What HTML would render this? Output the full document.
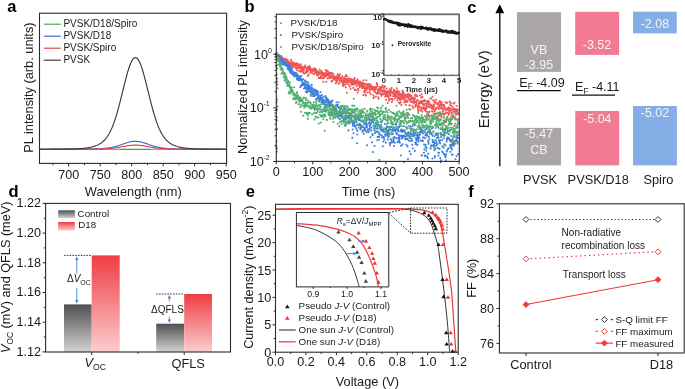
<!DOCTYPE html>
<html><head><meta charset="utf-8"><style>
html,body{margin:0;padding:0;background:#fff;}
svg{display:block;font-family:"Liberation Sans", sans-serif;will-change:transform;}
</style></head><body>
<svg width="685" height="389" viewBox="0 0 685 389">
<rect width="685" height="389" fill="#fff"/>
<text x="7.20" y="11.90" font-size="16.5" text-anchor="start" fill="#000" font-weight="700" >a</text>
<text x="244.40" y="11.70" font-size="16.5" text-anchor="start" fill="#000" font-weight="700" >b</text>
<text x="467.20" y="12.60" font-size="16.5" text-anchor="start" fill="#000" font-weight="700" >c</text>
<text x="8.40" y="196.60" font-size="16.5" text-anchor="start" fill="#000" font-weight="700" >d</text>
<text x="245.80" y="196.90" font-size="16.5" text-anchor="start" fill="#000" font-weight="700" >e</text>
<text x="468.30" y="197.20" font-size="16.5" text-anchor="start" fill="#000" font-weight="700" >f</text>
<path d="M40.00 149.20 L40.75 149.20 L41.50 149.20 L42.25 149.20 L43.00 149.20 L43.75 149.20 L44.50 149.20 L45.25 149.20 L46.00 149.20 L46.75 149.20 L47.50 149.20 L48.25 149.20 L49.00 149.20 L49.75 149.20 L50.50 149.20 L51.25 149.20 L52.00 149.20 L52.75 149.20 L53.50 149.20 L54.25 149.20 L55.00 149.20 L55.75 149.20 L56.50 149.20 L57.25 149.20 L58.00 149.20 L58.75 149.20 L59.50 149.20 L60.25 149.20 L61.00 149.20 L61.75 149.20 L62.50 149.20 L63.25 149.20 L64.00 149.20 L64.75 149.20 L65.50 149.20 L66.25 149.20 L67.00 149.20 L67.75 149.20 L68.50 149.20 L69.25 149.20 L70.00 149.20 L70.75 149.20 L71.50 149.20 L72.25 149.20 L73.00 149.20 L73.75 149.20 L74.50 149.20 L75.25 149.20 L76.00 149.20 L76.75 149.20 L77.50 149.20 L78.25 149.20 L79.00 149.20 L79.75 149.20 L80.50 149.20 L81.25 149.20 L82.00 149.20 L82.75 149.20 L83.50 149.20 L84.25 149.20 L85.00 149.20 L85.75 149.20 L86.50 149.20 L87.25 149.20 L88.00 149.20 L88.75 149.20 L89.50 149.20 L90.25 149.20 L91.00 149.20 L91.75 149.20 L92.50 149.21 L93.25 149.21 L94.00 149.21 L94.75 149.21 L95.50 149.21 L96.25 149.21 L97.00 149.21 L97.75 149.21 L98.50 149.21 L99.25 149.21 L100.00 149.21 L100.75 149.21 L101.50 149.21 L102.25 149.22 L103.00 149.22 L103.75 149.22 L104.50 149.22 L105.25 149.22 L106.00 149.22 L106.75 149.23 L107.50 149.23 L108.25 149.23 L109.00 149.23 L109.75 149.24 L110.50 149.24 L111.25 149.24 L112.00 149.25 L112.75 149.25 L113.50 149.26 L114.25 149.26 L115.00 149.26 L115.75 149.27 L116.50 149.27 L117.25 149.28 L118.00 149.29 L118.75 149.29 L119.50 149.30 L120.25 149.30 L121.00 149.31 L121.75 149.32 L122.50 149.32 L123.25 149.33 L124.00 149.34 L124.75 149.34 L125.50 149.35 L126.25 149.36 L127.00 149.36 L127.75 149.37 L128.50 149.37 L129.25 149.38 L130.00 149.38 L130.75 149.39 L131.50 149.39 L132.25 149.39 L133.00 149.40 L133.75 149.40 L134.50 149.40 L135.25 149.40 L136.00 149.40 L136.75 149.40 L137.50 149.40 L138.25 149.40 L139.00 149.39 L139.75 149.39 L140.50 149.39 L141.25 149.38 L142.00 149.38 L142.75 149.37 L143.50 149.37 L144.25 149.36 L145.00 149.35 L145.75 149.35 L146.50 149.34 L147.25 149.33 L148.00 149.33 L148.75 149.32 L149.50 149.31 L150.25 149.31 L151.00 149.30 L151.75 149.29 L152.50 149.29 L153.25 149.28 L154.00 149.28 L154.75 149.27 L155.50 149.27 L156.25 149.26 L157.00 149.26 L157.75 149.25 L158.50 149.25 L159.25 149.24 L160.00 149.24 L160.75 149.24 L161.50 149.23 L162.25 149.23 L163.00 149.23 L163.75 149.23 L164.50 149.22 L165.25 149.22 L166.00 149.22 L166.75 149.22 L167.50 149.22 L168.25 149.22 L169.00 149.21 L169.75 149.21 L170.50 149.21 L171.25 149.21 L172.00 149.21 L172.75 149.21 L173.50 149.21 L174.25 149.21 L175.00 149.21 L175.75 149.21 L176.50 149.21 L177.25 149.21 L178.00 149.21 L178.75 149.21 L179.50 149.20 L180.25 149.20 L181.00 149.20 L181.75 149.20 L182.50 149.20 L183.25 149.20 L184.00 149.20 L184.75 149.20 L185.50 149.20 L186.25 149.20 L187.00 149.20 L187.75 149.20 L188.50 149.20 L189.25 149.20 L190.00 149.20 L190.75 149.20 L191.50 149.20 L192.25 149.20 L193.00 149.20 L193.75 149.20 L194.50 149.20 L195.25 149.20 L196.00 149.20 L196.75 149.20 L197.50 149.20 L198.25 149.20 L199.00 149.20 L199.75 149.20 L200.50 149.20 L201.25 149.20 L202.00 149.20 L202.75 149.20 L203.50 149.20 L204.25 149.20 L205.00 149.20 L205.75 149.20 L206.50 149.20 L207.25 149.20 L208.00 149.20 L208.75 149.20 L209.50 149.20 L210.25 149.20 L211.00 149.20 L211.75 149.20 L212.50 149.20 L213.25 149.20 L214.00 149.20 L214.75 149.20 L215.50 149.20 L216.25 149.20 L217.00 149.20 L217.75 149.20 L218.50 149.20 L219.25 149.20 L220.00 149.20 L220.75 149.20 L221.50 149.20 L222.25 149.20 L223.00 149.20 L223.75 149.20 L224.50 149.20 L225.25 149.20 L226.00 149.20" fill="none" stroke="#3aa65c" stroke-width="1.15" stroke-linejoin="round" />
<path d="M40.00 149.20 L40.75 149.20 L41.50 149.20 L42.25 149.20 L43.00 149.20 L43.75 149.20 L44.50 149.20 L45.25 149.20 L46.00 149.20 L46.75 149.20 L47.50 149.20 L48.25 149.20 L49.00 149.20 L49.75 149.20 L50.50 149.20 L51.25 149.20 L52.00 149.20 L52.75 149.20 L53.50 149.20 L54.25 149.20 L55.00 149.20 L55.75 149.20 L56.50 149.20 L57.25 149.20 L58.00 149.20 L58.75 149.20 L59.50 149.20 L60.25 149.20 L61.00 149.20 L61.75 149.20 L62.50 149.20 L63.25 149.20 L64.00 149.20 L64.75 149.19 L65.50 149.19 L66.25 149.19 L67.00 149.19 L67.75 149.19 L68.50 149.19 L69.25 149.19 L70.00 149.19 L70.75 149.19 L71.50 149.18 L72.25 149.18 L73.00 149.18 L73.75 149.18 L74.50 149.18 L75.25 149.17 L76.00 149.17 L76.75 149.17 L77.50 149.16 L78.25 149.16 L79.00 149.16 L79.75 149.15 L80.50 149.15 L81.25 149.14 L82.00 149.14 L82.75 149.13 L83.50 149.12 L84.25 149.12 L85.00 149.11 L85.75 149.10 L86.50 149.09 L87.25 149.08 L88.00 149.07 L88.75 149.06 L89.50 149.05 L90.25 149.04 L91.00 149.02 L91.75 149.01 L92.50 148.99 L93.25 148.97 L94.00 148.95 L94.75 148.93 L95.50 148.91 L96.25 148.89 L97.00 148.86 L97.75 148.83 L98.50 148.80 L99.25 148.76 L100.00 148.72 L100.75 148.68 L101.50 148.64 L102.25 148.59 L103.00 148.53 L103.75 148.47 L104.50 148.41 L105.25 148.34 L106.00 148.26 L106.75 148.18 L107.50 148.08 L108.25 147.98 L109.00 147.88 L109.75 147.76 L110.50 147.63 L111.25 147.49 L112.00 147.35 L112.75 147.19 L113.50 147.02 L114.25 146.84 L115.00 146.65 L115.75 146.45 L116.50 146.24 L117.25 146.02 L118.00 145.79 L118.75 145.56 L119.50 145.31 L120.25 145.06 L121.00 144.80 L121.75 144.54 L122.50 144.28 L123.25 144.01 L124.00 143.75 L124.75 143.49 L125.50 143.24 L126.25 142.99 L127.00 142.76 L127.75 142.53 L128.50 142.32 L129.25 142.12 L130.00 141.94 L130.75 141.78 L131.50 141.64 L132.25 141.52 L133.00 141.43 L133.75 141.36 L134.50 141.32 L135.25 141.30 L136.00 141.31 L136.75 141.34 L137.50 141.40 L138.25 141.48 L139.00 141.59 L139.75 141.72 L140.50 141.87 L141.25 142.05 L142.00 142.24 L142.75 142.44 L143.50 142.66 L144.25 142.90 L145.00 143.14 L145.75 143.39 L146.50 143.65 L147.25 143.91 L148.00 144.17 L148.75 144.44 L149.50 144.70 L150.25 144.96 L151.00 145.21 L151.75 145.46 L152.50 145.70 L153.25 145.93 L154.00 146.16 L154.75 146.37 L155.50 146.57 L156.25 146.77 L157.00 146.95 L157.75 147.12 L158.50 147.28 L159.25 147.44 L160.00 147.58 L160.75 147.71 L161.50 147.83 L162.25 147.94 L163.00 148.04 L163.75 148.14 L164.50 148.23 L165.25 148.31 L166.00 148.38 L166.75 148.45 L167.50 148.51 L168.25 148.57 L169.00 148.62 L169.75 148.67 L170.50 148.71 L171.25 148.75 L172.00 148.78 L172.75 148.82 L173.50 148.85 L174.25 148.87 L175.00 148.90 L175.75 148.92 L176.50 148.95 L177.25 148.97 L178.00 148.98 L178.75 149.00 L179.50 149.02 L180.25 149.03 L181.00 149.04 L181.75 149.06 L182.50 149.07 L183.25 149.08 L184.00 149.09 L184.75 149.10 L185.50 149.11 L186.25 149.11 L187.00 149.12 L187.75 149.13 L188.50 149.13 L189.25 149.14 L190.00 149.15 L190.75 149.15 L191.50 149.16 L192.25 149.16 L193.00 149.16 L193.75 149.17 L194.50 149.17 L195.25 149.17 L196.00 149.18 L196.75 149.18 L197.50 149.18 L198.25 149.18 L199.00 149.18 L199.75 149.19 L200.50 149.19 L201.25 149.19 L202.00 149.19 L202.75 149.19 L203.50 149.19 L204.25 149.19 L205.00 149.19 L205.75 149.19 L206.50 149.19 L207.25 149.20 L208.00 149.20 L208.75 149.20 L209.50 149.20 L210.25 149.20 L211.00 149.20 L211.75 149.20 L212.50 149.20 L213.25 149.20 L214.00 149.20 L214.75 149.20 L215.50 149.20 L216.25 149.20 L217.00 149.20 L217.75 149.20 L218.50 149.20 L219.25 149.20 L220.00 149.20 L220.75 149.20 L221.50 149.20 L222.25 149.20 L223.00 149.20 L223.75 149.20 L224.50 149.20 L225.25 149.20 L226.00 149.20" fill="none" stroke="#2f6fe0" stroke-width="1.15" stroke-linejoin="round" />
<path d="M40.00 149.20 L40.75 149.20 L41.50 149.20 L42.25 149.20 L43.00 149.20 L43.75 149.20 L44.50 149.20 L45.25 149.20 L46.00 149.20 L46.75 149.20 L47.50 149.20 L48.25 149.20 L49.00 149.20 L49.75 149.20 L50.50 149.20 L51.25 149.20 L52.00 149.20 L52.75 149.20 L53.50 149.20 L54.25 149.20 L55.00 149.20 L55.75 149.20 L56.50 149.20 L57.25 149.20 L58.00 149.20 L58.75 149.20 L59.50 149.20 L60.25 149.20 L61.00 149.20 L61.75 149.20 L62.50 149.20 L63.25 149.20 L64.00 149.20 L64.75 149.20 L65.50 149.20 L66.25 149.20 L67.00 149.20 L67.75 149.20 L68.50 149.19 L69.25 149.19 L70.00 149.19 L70.75 149.19 L71.50 149.19 L72.25 149.19 L73.00 149.19 L73.75 149.19 L74.50 149.19 L75.25 149.19 L76.00 149.18 L76.75 149.18 L77.50 149.18 L78.25 149.18 L79.00 149.18 L79.75 149.18 L80.50 149.17 L81.25 149.17 L82.00 149.17 L82.75 149.16 L83.50 149.16 L84.25 149.16 L85.00 149.15 L85.75 149.15 L86.50 149.14 L87.25 149.14 L88.00 149.13 L88.75 149.13 L89.50 149.12 L90.25 149.12 L91.00 149.11 L91.75 149.10 L92.50 149.09 L93.25 149.08 L94.00 149.07 L94.75 149.06 L95.50 149.05 L96.25 149.04 L97.00 149.02 L97.75 149.01 L98.50 148.99 L99.25 148.97 L100.00 148.95 L100.75 148.93 L101.50 148.91 L102.25 148.88 L103.00 148.85 L103.75 148.82 L104.50 148.79 L105.25 148.75 L106.00 148.71 L106.75 148.67 L107.50 148.62 L108.25 148.57 L109.00 148.51 L109.75 148.45 L110.50 148.39 L111.25 148.31 L112.00 148.24 L112.75 148.16 L113.50 148.07 L114.25 147.98 L115.00 147.88 L115.75 147.77 L116.50 147.67 L117.25 147.55 L118.00 147.43 L118.75 147.31 L119.50 147.18 L120.25 147.05 L121.00 146.92 L121.75 146.78 L122.50 146.65 L123.25 146.51 L124.00 146.37 L124.75 146.24 L125.50 146.11 L126.25 145.98 L127.00 145.86 L127.75 145.74 L128.50 145.63 L129.25 145.53 L130.00 145.43 L130.75 145.35 L131.50 145.28 L132.25 145.22 L133.00 145.17 L133.75 145.13 L134.50 145.11 L135.25 145.10 L136.00 145.10 L136.75 145.12 L137.50 145.15 L138.25 145.20 L139.00 145.25 L139.75 145.32 L140.50 145.40 L141.25 145.49 L142.00 145.59 L142.75 145.69 L143.50 145.81 L144.25 145.93 L145.00 146.05 L145.75 146.19 L146.50 146.32 L147.25 146.45 L148.00 146.59 L148.75 146.73 L149.50 146.86 L150.25 147.00 L151.00 147.13 L151.75 147.26 L152.50 147.38 L153.25 147.50 L154.00 147.62 L154.75 147.73 L155.50 147.84 L156.25 147.94 L157.00 148.03 L157.75 148.12 L158.50 148.21 L159.25 148.28 L160.00 148.36 L160.75 148.43 L161.50 148.49 L162.25 148.55 L163.00 148.60 L163.75 148.65 L164.50 148.70 L165.25 148.74 L166.00 148.78 L166.75 148.81 L167.50 148.84 L168.25 148.87 L169.00 148.90 L169.75 148.92 L170.50 148.94 L171.25 148.97 L172.00 148.98 L172.75 149.00 L173.50 149.02 L174.25 149.03 L175.00 149.04 L175.75 149.06 L176.50 149.07 L177.25 149.08 L178.00 149.09 L178.75 149.10 L179.50 149.10 L180.25 149.11 L181.00 149.12 L181.75 149.13 L182.50 149.13 L183.25 149.14 L184.00 149.14 L184.75 149.15 L185.50 149.15 L186.25 149.16 L187.00 149.16 L187.75 149.16 L188.50 149.17 L189.25 149.17 L190.00 149.17 L190.75 149.17 L191.50 149.18 L192.25 149.18 L193.00 149.18 L193.75 149.18 L194.50 149.18 L195.25 149.19 L196.00 149.19 L196.75 149.19 L197.50 149.19 L198.25 149.19 L199.00 149.19 L199.75 149.19 L200.50 149.19 L201.25 149.19 L202.00 149.19 L202.75 149.20 L203.50 149.20 L204.25 149.20 L205.00 149.20 L205.75 149.20 L206.50 149.20 L207.25 149.20 L208.00 149.20 L208.75 149.20 L209.50 149.20 L210.25 149.20 L211.00 149.20 L211.75 149.20 L212.50 149.20 L213.25 149.20 L214.00 149.20 L214.75 149.20 L215.50 149.20 L216.25 149.20 L217.00 149.20 L217.75 149.20 L218.50 149.20 L219.25 149.20 L220.00 149.20 L220.75 149.20 L221.50 149.20 L222.25 149.20 L223.00 149.20 L223.75 149.20 L224.50 149.20 L225.25 149.20 L226.00 149.20" fill="none" stroke="#e8413f" stroke-width="1.15" stroke-linejoin="round" />
<path d="M40.00 149.20 L40.75 149.20 L41.50 149.20 L42.25 149.20 L43.00 149.20 L43.75 149.20 L44.50 149.20 L45.25 149.20 L46.00 149.20 L46.75 149.20 L47.50 149.20 L48.25 149.20 L49.00 149.20 L49.75 149.20 L50.50 149.19 L51.25 149.19 L52.00 149.19 L52.75 149.19 L53.50 149.19 L54.25 149.19 L55.00 149.19 L55.75 149.19 L56.50 149.18 L57.25 149.18 L58.00 149.18 L58.75 149.18 L59.50 149.17 L60.25 149.17 L61.00 149.17 L61.75 149.16 L62.50 149.16 L63.25 149.15 L64.00 149.14 L64.75 149.14 L65.50 149.13 L66.25 149.12 L67.00 149.11 L67.75 149.10 L68.50 149.09 L69.25 149.07 L70.00 149.06 L70.75 149.04 L71.50 149.02 L72.25 149.00 L73.00 148.98 L73.75 148.95 L74.50 148.93 L75.25 148.90 L76.00 148.86 L76.75 148.83 L77.50 148.79 L78.25 148.75 L79.00 148.70 L79.75 148.65 L80.50 148.60 L81.25 148.54 L82.00 148.47 L82.75 148.40 L83.50 148.33 L84.25 148.24 L85.00 148.16 L85.75 148.06 L86.50 147.96 L87.25 147.85 L88.00 147.73 L88.75 147.60 L89.50 147.46 L90.25 147.30 L91.00 147.14 L91.75 146.96 L92.50 146.77 L93.25 146.57 L94.00 146.34 L94.75 146.10 L95.50 145.83 L96.25 145.55 L97.00 145.24 L97.75 144.90 L98.50 144.53 L99.25 144.12 L100.00 143.68 L100.75 143.20 L101.50 142.67 L102.25 142.10 L103.00 141.46 L103.75 140.77 L104.50 140.02 L105.25 139.20 L106.00 138.30 L106.75 137.31 L107.50 136.24 L108.25 135.08 L109.00 133.82 L109.75 132.46 L110.50 130.98 L111.25 129.39 L112.00 127.68 L112.75 125.86 L113.50 123.91 L114.25 121.83 L115.00 119.63 L115.75 117.31 L116.50 114.87 L117.25 112.32 L118.00 109.66 L118.75 106.90 L119.50 104.05 L120.25 101.13 L121.00 98.15 L121.75 95.12 L122.50 92.07 L123.25 89.01 L124.00 85.96 L124.75 82.96 L125.50 80.01 L126.25 77.15 L127.00 74.39 L127.75 71.77 L128.50 69.31 L129.25 67.02 L130.00 64.94 L130.75 63.08 L131.50 61.47 L132.25 60.11 L133.00 59.03 L133.75 58.22 L134.50 57.72 L135.25 57.51 L136.00 57.60 L136.75 57.99 L137.50 58.67 L138.25 59.64 L139.00 60.89 L139.75 62.41 L140.50 64.17 L141.25 66.17 L142.00 68.37 L142.75 70.76 L143.50 73.33 L144.25 76.03 L145.00 78.85 L145.75 81.77 L146.50 84.76 L147.25 87.79 L148.00 90.84 L148.75 93.90 L149.50 96.94 L150.25 99.94 L151.00 102.89 L151.75 105.77 L152.50 108.57 L153.25 111.27 L154.00 113.86 L154.75 116.35 L155.50 118.72 L156.25 120.97 L157.00 123.09 L157.75 125.09 L158.50 126.97 L159.25 128.72 L160.00 130.36 L160.75 131.88 L161.50 133.29 L162.25 134.59 L163.00 135.79 L163.75 136.90 L164.50 137.91 L165.25 138.84 L166.00 139.70 L166.75 140.48 L167.50 141.20 L168.25 141.85 L169.00 142.45 L169.75 142.99 L170.50 143.49 L171.25 143.95 L172.00 144.37 L172.75 144.75 L173.50 145.10 L174.25 145.43 L175.00 145.72 L175.75 146.00 L176.50 146.25 L177.25 146.48 L178.00 146.69 L178.75 146.89 L179.50 147.07 L180.25 147.24 L181.00 147.40 L181.75 147.54 L182.50 147.67 L183.25 147.80 L184.00 147.91 L184.75 148.02 L185.50 148.12 L186.25 148.21 L187.00 148.29 L187.75 148.37 L188.50 148.44 L189.25 148.51 L190.00 148.57 L190.75 148.63 L191.50 148.68 L192.25 148.73 L193.00 148.77 L193.75 148.81 L194.50 148.85 L195.25 148.88 L196.00 148.91 L196.75 148.94 L197.50 148.97 L198.25 148.99 L199.00 149.01 L199.75 149.03 L200.50 149.05 L201.25 149.07 L202.00 149.08 L202.75 149.09 L203.50 149.10 L204.25 149.12 L205.00 149.12 L205.75 149.13 L206.50 149.14 L207.25 149.15 L208.00 149.15 L208.75 149.16 L209.50 149.16 L210.25 149.17 L211.00 149.17 L211.75 149.18 L212.50 149.18 L213.25 149.18 L214.00 149.18 L214.75 149.19 L215.50 149.19 L216.25 149.19 L217.00 149.19 L217.75 149.19 L218.50 149.19 L219.25 149.19 L220.00 149.19 L220.75 149.20 L221.50 149.20 L222.25 149.20 L223.00 149.20 L223.75 149.20 L224.50 149.20 L225.25 149.20 L226.00 149.20" fill="none" stroke="#3a3a3a" stroke-width="1.15" stroke-linejoin="round" />
<rect x="39.50" y="13.20" width="187.10" height="150.20" fill="none" stroke="#2b2b2b" stroke-width="1.1" />
<line x1="68.70" y1="163.40" x2="68.70" y2="166.40" stroke="#2b2b2b" stroke-width="1" />
<text x="68.70" y="178.70" font-size="12.6" text-anchor="middle" fill="#1a1a1a" font-weight="400" >700</text>
<line x1="100.20" y1="163.40" x2="100.20" y2="166.40" stroke="#2b2b2b" stroke-width="1" />
<text x="100.20" y="178.70" font-size="12.6" text-anchor="middle" fill="#1a1a1a" font-weight="400" >750</text>
<line x1="131.70" y1="163.40" x2="131.70" y2="166.40" stroke="#2b2b2b" stroke-width="1" />
<text x="131.70" y="178.70" font-size="12.6" text-anchor="middle" fill="#1a1a1a" font-weight="400" >800</text>
<line x1="163.20" y1="163.40" x2="163.20" y2="166.40" stroke="#2b2b2b" stroke-width="1" />
<text x="163.20" y="178.70" font-size="12.6" text-anchor="middle" fill="#1a1a1a" font-weight="400" >850</text>
<line x1="194.70" y1="163.40" x2="194.70" y2="166.40" stroke="#2b2b2b" stroke-width="1" />
<text x="194.70" y="178.70" font-size="12.6" text-anchor="middle" fill="#1a1a1a" font-weight="400" >900</text>
<line x1="226.20" y1="163.40" x2="226.20" y2="166.40" stroke="#2b2b2b" stroke-width="1" />
<text x="226.20" y="178.70" font-size="12.6" text-anchor="middle" fill="#1a1a1a" font-weight="400" >950</text>
<line x1="52.95" y1="163.40" x2="52.95" y2="165.20" stroke="#2b2b2b" stroke-width="1" />
<line x1="84.45" y1="163.40" x2="84.45" y2="165.20" stroke="#2b2b2b" stroke-width="1" />
<line x1="115.95" y1="163.40" x2="115.95" y2="165.20" stroke="#2b2b2b" stroke-width="1" />
<line x1="147.45" y1="163.40" x2="147.45" y2="165.20" stroke="#2b2b2b" stroke-width="1" />
<line x1="178.95" y1="163.40" x2="178.95" y2="165.20" stroke="#2b2b2b" stroke-width="1" />
<line x1="210.45" y1="163.40" x2="210.45" y2="165.20" stroke="#2b2b2b" stroke-width="1" />
<text x="133.30" y="195.60" font-size="12.8" text-anchor="middle" fill="#1a1a1a" font-weight="400" >Wavelength (nm)</text>
<text x="0.00" y="0.00" font-size="12.8" text-anchor="middle" fill="#1a1a1a" font-weight="400" transform="translate(33.3 87.6) rotate(-90)">PL intensity (arb. units)</text>
<line x1="43.80" y1="24.20" x2="60.80" y2="24.20" stroke="#3aa65c" stroke-width="1.15" />
<text x="63.40" y="27.20" font-size="10" text-anchor="start" fill="#1a1a1a" font-weight="400" >PVSK/D18/Spiro</text>
<line x1="43.80" y1="36.20" x2="60.80" y2="36.20" stroke="#2f6fe0" stroke-width="1.15" />
<text x="63.40" y="39.20" font-size="10" text-anchor="start" fill="#1a1a1a" font-weight="400" >PVSK/D18</text>
<line x1="43.80" y1="48.20" x2="60.80" y2="48.20" stroke="#e8413f" stroke-width="1.15" />
<text x="63.40" y="51.20" font-size="10" text-anchor="start" fill="#1a1a1a" font-weight="400" >PVSK/Spiro</text>
<line x1="43.80" y1="60.20" x2="60.80" y2="60.20" stroke="#3a3a3a" stroke-width="1.15" />
<text x="63.40" y="63.20" font-size="10" text-anchor="start" fill="#1a1a1a" font-weight="400" >PVSK</text>
<path d="M276.3 54.6h0M276.2 53.6h0M276.4 56.0h0M276.8 55.1h0M276.8 53.5h0M277.0 54.8h0M277.2 58.0h0M277.4 54.2h0M277.8 58.4h0M277.9 58.7h0M278.3 55.6h0M278.2 56.3h0M278.4 55.9h0M278.9 55.9h0M279.0 55.8h0M279.0 55.1h0M279.1 57.6h0M279.3 57.3h0M279.6 58.1h0M279.9 59.1h0M280.2 59.0h0M280.3 57.4h0M280.5 57.9h0M280.8 56.1h0M281.1 58.4h0M280.8 59.7h0M281.0 61.0h0M281.4 57.3h0M281.7 56.6h0M281.8 58.3h0M282.1 58.1h0M282.2 60.2h0M282.5 61.0h0M282.8 60.3h0M282.5 62.1h0M283.0 59.3h0M283.3 63.2h0M283.2 64.6h0M283.3 62.0h0M283.7 58.6h0M283.7 59.9h0M284.2 59.7h0M284.2 59.7h0M284.7 59.8h0M284.7 59.2h0M285.1 60.0h0M284.9 59.6h0M285.2 64.4h0M285.7 63.6h0M285.5 58.7h0M285.7 60.9h0M286.0 60.5h0M286.0 62.8h0M286.4 62.5h0M286.8 63.4h0M286.9 60.4h0M287.1 64.6h0M287.0 62.4h0M287.6 59.9h0M287.7 64.2h0M287.6 63.9h0M288.0 61.5h0M288.0 62.0h0M288.2 62.5h0M288.3 63.2h0M288.5 62.4h0M288.7 61.7h0M289.3 62.1h0M289.2 64.0h0M289.4 64.0h0M289.9 64.0h0M290.1 62.8h0M289.9 65.7h0M290.1 63.2h0M290.6 64.5h0M290.5 62.7h0M290.9 59.9h0M290.9 63.3h0M291.2 64.5h0M291.7 64.3h0M291.5 62.5h0M291.7 66.6h0M292.0 62.9h0M292.3 61.9h0M292.5 65.2h0M292.8 63.5h0M292.9 62.8h0M293.1 67.6h0M293.1 64.5h0M293.1 62.8h0M293.4 63.6h0M293.8 64.8h0M294.1 63.3h0M294.4 65.8h0M294.2 63.7h0M294.4 65.9h0M294.8 65.1h0M295.1 64.4h0M295.2 64.5h0M295.4 67.6h0M295.7 63.5h0M295.8 64.5h0M295.7 65.9h0M296.2 68.2h0M296.5 67.8h0M296.4 63.3h0M296.7 70.3h0M296.6 63.7h0M297.2 65.6h0M297.3 65.6h0M297.6 64.4h0M297.7 63.8h0M297.6 68.1h0M297.7 64.8h0M298.2 64.1h0M298.6 67.3h0M298.7 70.8h0M298.6 65.4h0M298.8 67.0h0M299.2 65.5h0M299.1 67.3h0M299.7 65.3h0M299.7 68.6h0M300.1 65.7h0M300.1 71.6h0M300.3 65.5h0M300.4 67.9h0M300.5 67.6h0M300.7 64.4h0M301.0 67.6h0M301.2 68.2h0M301.4 70.5h0M301.4 71.4h0M301.8 69.2h0M302.1 68.0h0M302.2 66.6h0M302.6 71.5h0M302.6 69.5h0M302.8 70.2h0M303.1 69.9h0M303.2 70.9h0M303.6 67.8h0M303.8 69.9h0M303.6 72.9h0M304.1 73.6h0M303.9 70.5h0M304.1 67.3h0M304.4 67.4h0M304.9 66.4h0M305.1 67.7h0M305.2 67.3h0M305.1 66.6h0M305.3 65.5h0M305.9 73.1h0M306.1 71.2h0M306.2 68.0h0M306.3 68.3h0M306.4 67.7h0M306.7 68.9h0M306.6 67.9h0M306.8 71.8h0M307.1 70.4h0M307.2 71.6h0M307.8 71.6h0M307.6 68.6h0M307.9 76.0h0M308.1 66.7h0M308.2 69.2h0M308.7 74.5h0M308.6 68.1h0M309.0 67.6h0M309.2 66.8h0M309.4 69.7h0M309.5 70.0h0M309.8 66.4h0M310.1 68.4h0M309.9 67.2h0M310.5 68.6h0M310.5 72.6h0M310.9 70.2h0M310.9 70.9h0M310.9 69.8h0M311.0 70.0h0M311.3 70.2h0M311.8 71.7h0M311.7 69.5h0M312.0 72.5h0M312.0 71.2h0M312.5 71.3h0M312.6 70.9h0M313.0 70.5h0M312.8 69.3h0M313.2 70.6h0M313.5 73.7h0M313.7 73.7h0M314.0 70.1h0M314.1 74.1h0M314.2 68.6h0M314.1 73.5h0M314.3 70.8h0M314.6 68.9h0M314.7 70.5h0M315.3 68.7h0M315.4 70.1h0M315.4 72.5h0M315.7 70.7h0M315.8 71.0h0M316.3 70.5h0M316.1 69.8h0M316.7 72.9h0M316.4 73.3h0M316.8 70.7h0M316.9 75.3h0M317.2 72.3h0M317.2 71.1h0M317.6 72.7h0M317.7 72.4h0M317.9 72.8h0M318.3 75.4h0M318.5 74.5h0M318.5 74.1h0M318.7 78.1h0M319.1 72.0h0M319.2 73.4h0M319.5 69.6h0M319.6 72.2h0M319.6 73.8h0M319.9 77.9h0M320.3 78.2h0M320.5 73.7h0M320.6 78.1h0M320.8 76.2h0M320.7 73.7h0M321.0 73.3h0M321.3 70.7h0M321.5 71.4h0M321.7 76.5h0M321.6 76.6h0M322.0 73.0h0M322.3 78.1h0M322.5 74.7h0M322.5 75.0h0M322.9 72.8h0M322.9 73.6h0M323.2 74.8h0M323.3 81.7h0M323.7 78.3h0M323.8 74.2h0M323.8 75.2h0M324.0 75.4h0M324.4 74.9h0M324.3 76.9h0M324.8 73.3h0M325.0 74.3h0M325.1 75.9h0M325.3 76.8h0M325.7 76.3h0M325.6 74.9h0M325.7 70.4h0M326.1 76.0h0M326.3 72.9h0M326.4 81.7h0M326.5 74.1h0M326.9 70.6h0M327.3 73.8h0M327.1 73.5h0M327.6 74.5h0M327.7 78.4h0M327.8 75.2h0M327.8 71.3h0M328.2 73.3h0M328.3 75.9h0M328.5 74.7h0M329.0 74.4h0M329.1 72.5h0M329.0 76.1h0M329.6 73.1h0M329.5 78.0h0M330.0 78.0h0M330.0 74.7h0M330.0 78.1h0M330.1 74.6h0M330.4 73.2h0M330.9 74.1h0M330.9 76.7h0M330.9 74.9h0M331.5 81.4h0M331.6 72.9h0M331.9 80.8h0M331.9 81.2h0M332.2 77.2h0M332.2 77.8h0M332.3 77.1h0M332.4 80.9h0M332.8 76.1h0M332.9 77.9h0M333.5 78.5h0M333.3 73.9h0M333.6 78.6h0M333.7 79.3h0M333.8 76.9h0M334.4 76.4h0M334.6 79.5h0M334.8 77.7h0M334.6 79.1h0M334.7 77.4h0M335.0 78.5h0M335.2 77.1h0M335.7 83.2h0M335.7 80.3h0M335.9 80.8h0M336.0 76.7h0M336.5 76.5h0M336.3 77.5h0M336.9 82.1h0M336.7 78.5h0M337.0 78.7h0M337.2 76.7h0M337.6 74.3h0M337.4 80.0h0M338.0 75.1h0M338.0 78.0h0M338.2 78.8h0M338.6 78.9h0M338.8 76.7h0M338.7 83.8h0M339.0 77.9h0M339.3 78.2h0M339.5 75.6h0M339.7 80.7h0M339.5 82.5h0M340.1 78.5h0M340.2 78.7h0M340.2 74.3h0M340.6 78.2h0M340.8 78.2h0M340.9 78.8h0M341.2 79.0h0M341.4 81.1h0M341.3 78.6h0M341.9 80.7h0M342.0 77.3h0M341.9 77.8h0M342.1 82.0h0M342.4 76.4h0M342.4 81.1h0M342.8 84.3h0M342.9 80.1h0M343.1 83.3h0M343.2 86.0h0M343.7 81.8h0M343.7 78.2h0M344.0 79.2h0M344.0 85.0h0M344.5 78.5h0M344.4 81.0h0M344.7 79.9h0M345.2 76.8h0M345.0 82.5h0M345.3 80.8h0M345.4 84.4h0M345.7 87.2h0M345.8 79.4h0M345.9 75.0h0M346.5 78.8h0M346.7 80.2h0M346.9 82.2h0M346.8 92.8h0M347.2 79.0h0M347.0 76.3h0M347.4 82.8h0M347.6 83.8h0M347.7 81.5h0M348.0 81.4h0M348.5 80.4h0M348.3 82.1h0M348.8 85.1h0M348.8 78.3h0M348.9 79.2h0M349.4 81.1h0M349.6 81.1h0M349.4 79.8h0M349.9 86.7h0M349.7 79.7h0M350.4 81.3h0M350.2 82.1h0M350.5 82.4h0M350.6 89.0h0M350.8 79.1h0M351.2 83.5h0M351.1 83.5h0M351.6 80.7h0M351.9 79.6h0M351.7 84.7h0M352.3 82.5h0M352.5 80.0h0M352.4 84.5h0M352.7 81.6h0M353.0 81.5h0M353.2 83.8h0M353.3 81.1h0M353.4 87.9h0M353.8 84.4h0M353.6 81.0h0M353.9 81.9h0M354.0 79.4h0M354.3 80.3h0M354.8 82.8h0M354.7 78.1h0M354.8 89.9h0M355.3 81.1h0M355.3 81.9h0M355.6 83.5h0M355.8 81.1h0M356.0 84.0h0M355.9 90.1h0M356.4 82.8h0M356.5 86.1h0M356.6 84.3h0M356.8 86.1h0M357.1 81.1h0M357.2 79.9h0M357.5 92.6h0M357.5 79.6h0M358.1 83.0h0M357.9 88.7h0M358.4 90.4h0M358.7 83.8h0M358.5 82.5h0M358.7 84.1h0M359.2 81.4h0M359.2 85.5h0M359.3 82.9h0M359.7 87.4h0M359.8 83.8h0M360.1 85.5h0M360.0 84.6h0M360.2 82.6h0M360.6 85.4h0M360.6 81.7h0M361.0 82.9h0M361.0 85.2h0M361.5 86.2h0M361.6 83.8h0M361.7 84.4h0M361.9 85.1h0M361.9 86.5h0M362.4 86.7h0M362.4 87.9h0M362.9 84.6h0M362.8 87.4h0M363.0 82.7h0M363.2 80.3h0M363.3 95.0h0M363.4 86.4h0M364.0 88.2h0M364.0 91.6h0M364.4 83.9h0M364.2 88.1h0M364.6 86.0h0M364.6 91.0h0M365.1 92.1h0M365.0 89.1h0M365.3 84.2h0M365.4 94.6h0M365.8 87.6h0M365.8 84.3h0M366.0 95.6h0M366.3 80.3h0M366.3 90.0h0M366.9 84.5h0M367.0 88.4h0M367.3 86.3h0M367.2 88.8h0M367.7 92.6h0M367.5 84.2h0M367.9 86.7h0M368.0 84.6h0M368.4 85.9h0M368.7 86.0h0M368.8 84.1h0M368.6 86.7h0M369.1 86.9h0M369.3 89.1h0M369.4 89.7h0M369.7 89.8h0M369.8 92.3h0M370.0 86.0h0M370.2 84.2h0M370.3 87.5h0M370.6 87.7h0M370.6 94.2h0M370.8 89.7h0M371.1 88.0h0M371.4 85.7h0M371.3 86.7h0M371.9 89.3h0M372.1 89.5h0M372.1 89.6h0M372.3 88.7h0M372.7 87.1h0M373.0 89.2h0M372.7 89.4h0M373.3 95.3h0M373.5 98.3h0M373.3 88.6h0M373.5 87.4h0M373.8 97.4h0M374.3 89.1h0M374.1 91.1h0M374.4 88.5h0M374.8 90.9h0M374.8 88.7h0M374.9 87.1h0M375.0 87.6h0M375.6 89.1h0M375.4 92.6h0M375.9 96.6h0M376.0 86.9h0M376.1 87.3h0M376.4 87.1h0M376.7 92.9h0M376.8 83.1h0M376.9 84.5h0M377.4 89.3h0M377.4 92.6h0M377.5 93.9h0M377.6 86.3h0M378.1 90.3h0M378.0 91.3h0M378.3 97.2h0M378.6 98.8h0M378.4 90.5h0M378.7 90.3h0M379.1 93.3h0M379.5 93.0h0M379.5 89.2h0M379.4 89.1h0M379.6 87.9h0M380.0 90.8h0M380.3 90.2h0M380.3 87.1h0M380.4 93.8h0M381.0 93.8h0M380.8 91.0h0M381.2 89.4h0M381.3 87.6h0M381.4 95.8h0M381.8 87.1h0M381.9 91.1h0M382.4 93.7h0M382.5 94.5h0M382.3 91.5h0M382.7 85.4h0M382.7 93.8h0M383.2 90.4h0M383.5 88.0h0M383.3 91.5h0M383.7 90.5h0M383.9 88.0h0M384.0 91.2h0M384.2 94.0h0M384.6 86.3h0M384.8 90.2h0M385.0 86.6h0M385.0 92.0h0M385.1 92.5h0M385.2 96.4h0M385.5 92.3h0M385.9 91.6h0M386.1 94.9h0M386.1 99.7h0M386.5 96.3h0M386.6 94.0h0M387.0 93.3h0M386.8 88.5h0M387.0 92.5h0M387.2 93.4h0M387.7 93.3h0M387.6 103.1h0M387.8 91.0h0M388.3 95.4h0M388.4 97.1h0M388.7 97.5h0M388.8 100.8h0M389.1 92.2h0M389.1 99.2h0M389.2 91.5h0M389.3 92.5h0M389.9 89.4h0M389.7 93.2h0M390.3 93.1h0M390.0 94.9h0M390.2 92.3h0M390.7 95.7h0M390.9 99.1h0M390.9 90.1h0M391.4 92.3h0M391.2 91.2h0M391.8 102.0h0M391.6 88.0h0M391.8 99.0h0M392.3 93.6h0M392.5 93.8h0M392.6 99.3h0M392.6 100.0h0M393.1 93.3h0M393.0 93.7h0M393.1 96.3h0M393.4 91.6h0M393.6 96.0h0M393.8 89.9h0M394.3 91.1h0M394.3 95.9h0M394.4 91.7h0M394.8 94.4h0M394.9 98.5h0M394.9 91.0h0M395.4 94.2h0M395.3 96.5h0M395.8 93.1h0M396.1 95.4h0M396.0 91.6h0M396.4 95.4h0M396.3 93.9h0M396.8 92.1h0M396.7 96.3h0M396.8 88.4h0M397.0 97.1h0M397.4 100.3h0M397.7 90.9h0M397.9 93.0h0M397.9 98.5h0M398.1 98.6h0M398.5 95.0h0M398.3 97.2h0M398.9 95.5h0M398.9 93.7h0M399.0 102.6h0M399.3 91.7h0M399.6 103.4h0M399.7 97.7h0M399.7 98.5h0M400.2 94.1h0M400.1 100.1h0M400.4 102.5h0M400.4 96.1h0M400.8 102.2h0M400.9 94.9h0M401.1 98.8h0M401.2 99.2h0M401.4 105.1h0M401.8 97.1h0M401.8 94.1h0M402.4 98.4h0M402.5 95.3h0M402.4 90.7h0M402.7 92.3h0M403.1 91.6h0M403.1 98.2h0M403.1 95.9h0M403.4 93.1h0M403.7 98.4h0M404.1 97.1h0M404.2 99.4h0M404.3 102.4h0M404.4 94.9h0M404.8 94.3h0M404.9 94.9h0M405.2 100.4h0M405.4 100.6h0M405.6 96.9h0M405.8 97.4h0M405.9 105.0h0M405.9 101.1h0M406.3 101.9h0M406.6 95.4h0M406.7 96.3h0M406.8 100.6h0M407.0 100.8h0M407.3 101.7h0M407.6 101.6h0M407.7 96.6h0M407.7 94.2h0M407.7 112.7h0M408.2 98.3h0M408.6 95.7h0M408.5 94.0h0M408.7 95.4h0M409.0 96.4h0M409.3 105.5h0M409.3 99.7h0M409.4 109.1h0M409.8 94.8h0M409.7 105.3h0M410.3 95.7h0M410.2 100.4h0M410.4 98.6h0M410.6 95.9h0M410.9 99.4h0M410.9 101.7h0M411.4 97.5h0M411.3 95.8h0M411.8 101.8h0M411.6 102.2h0M412.1 98.4h0M412.2 98.2h0M412.4 106.1h0M412.5 98.7h0M412.8 91.9h0M412.9 97.5h0M413.1 108.2h0M413.5 102.5h0M413.5 101.1h0M413.7 98.8h0M413.8 103.3h0M413.9 103.1h0M414.4 99.6h0M414.4 101.4h0M414.7 98.1h0M415.0 106.7h0M415.0 98.6h0M415.1 94.8h0M415.6 104.8h0M415.5 95.9h0M416.0 105.5h0M415.8 101.7h0M416.5 101.8h0M416.2 103.1h0M416.4 104.1h0M416.7 100.7h0M416.8 95.4h0M417.0 96.3h0M417.6 106.1h0M417.7 108.0h0M418.0 106.7h0M417.8 100.0h0M418.3 111.0h0M418.3 109.7h0M418.7 103.3h0M418.6 105.3h0M418.8 103.2h0M419.1 103.6h0M419.1 102.1h0M419.5 107.7h0M419.9 102.0h0M419.9 95.5h0M420.1 102.1h0M420.2 106.9h0M420.4 110.6h0M420.7 101.0h0M420.9 103.0h0M421.1 97.6h0M421.5 101.7h0M421.4 109.4h0M421.6 94.3h0M421.9 102.0h0M422.1 103.6h0M422.1 107.9h0M422.4 96.9h0M422.4 111.6h0M422.8 104.4h0M423.1 108.5h0M423.1 100.9h0M423.4 101.4h0M423.4 107.5h0M423.8 119.3h0M424.1 104.0h0M424.0 105.4h0M424.4 100.6h0M424.3 109.2h0M424.8 110.1h0M424.7 100.1h0M425.0 107.7h0M425.5 101.3h0M425.5 103.8h0M425.9 108.6h0M425.9 111.5h0M426.2 109.1h0M426.3 108.6h0M426.5 105.5h0M426.6 107.2h0M426.7 104.2h0M426.8 106.5h0M427.3 103.0h0M427.3 116.7h0M427.6 101.4h0M427.7 112.7h0M427.9 106.2h0M428.1 100.8h0M428.2 112.3h0M428.6 114.5h0M428.9 102.9h0M429.0 104.4h0M428.9 101.2h0M429.3 107.5h0M429.8 116.0h0M429.7 111.7h0M430.0 107.0h0M430.0 104.2h0M430.1 104.9h0M430.6 104.8h0M430.5 98.3h0M431.1 98.6h0M431.2 105.0h0M431.1 105.0h0M431.2 106.0h0M431.8 108.8h0M432.0 107.9h0M431.8 116.5h0M432.2 111.3h0M432.6 111.7h0M432.7 106.3h0M432.6 96.7h0M433.2 100.4h0M433.0 105.6h0M433.2 109.1h0M433.8 100.4h0M433.7 108.0h0M434.0 106.3h0M434.0 113.8h0M434.5 104.1h0M434.6 111.3h0M434.7 102.1h0M435.1 113.6h0M435.3 102.0h0M435.1 110.5h0M435.7 108.4h0M435.6 109.5h0M435.9 117.1h0M436.1 99.7h0M436.2 108.3h0M436.4 117.9h0M436.7 103.3h0M437.0 116.8h0M436.9 114.0h0M437.2 104.0h0M437.5 107.4h0M437.4 103.9h0M438.0 118.6h0M438.0 104.3h0M438.1 118.4h0M438.5 103.1h0M438.8 115.7h0M438.8 108.9h0M439.1 106.3h0M439.4 105.6h0M439.2 101.5h0M439.5 114.3h0M439.6 112.9h0M440.1 108.4h0M440.1 101.4h0M440.5 101.9h0M440.4 104.2h0M440.9 119.4h0M440.9 113.8h0M440.9 115.7h0M441.1 107.6h0M441.4 105.7h0M441.7 102.7h0M441.7 113.9h0M441.8 105.6h0M442.0 104.6h0M442.5 108.9h0M442.7 108.3h0M442.7 111.8h0M442.8 110.0h0M443.5 109.2h0M443.4 105.7h0M443.5 113.7h0M444.0 108.3h0M444.1 114.9h0M444.0 104.7h0M444.1 124.8h0M444.3 108.5h0M444.5 106.8h0M444.9 121.2h0M445.4 113.4h0M445.4 108.2h0M445.5 110.7h0M445.6 102.2h0M445.9 102.7h0M446.2 119.3h0M446.2 122.0h0M446.7 112.9h0M446.9 109.2h0M446.7 109.9h0M447.0 108.9h0M447.4 102.8h0M447.2 117.4h0M447.7 108.7h0M448.1 119.5h0M448.1 108.0h0M448.4 109.6h0M448.5 112.5h0M448.7 114.7h0M448.7 107.5h0M448.8 108.2h0M449.0 114.0h0M449.2 110.5h0M449.7 111.2h0M449.6 111.7h0M449.8 101.9h0M450.4 108.6h0M450.2 105.0h0M450.5 120.7h0M450.9 103.3h0M451.0 105.5h0M451.3 116.2h0M451.3 110.1h0M451.3 113.5h0M451.5 113.6h0M451.7 113.1h0M452.3 118.9h0M452.1 112.2h0M452.3 107.0h0M452.5 109.5h0M452.8 116.1h0M452.8 117.0h0M453.5 103.6h0M453.5 103.6h0M453.5 108.6h0M453.7 116.7h0M453.8 111.6h0M454.4 125.9h0M454.6 102.7h0M454.8 109.1h0M454.5 110.1h0M455.2 113.1h0M454.9 117.2h0M455.2 111.0h0M455.3 117.5h0M455.6 109.7h0M455.9 119.0h0M456.1 109.9h0M456.1 114.8h0M456.6 109.4h0M456.5 106.0h0M456.9 111.1h0M457.1 112.0h0M457.3 113.7h0M457.6 109.9h0M457.5 110.8h0M457.6 120.8h0M458.1 113.9h0M458.0 119.5h0M277.4 84.6h0M276.7 141.2h0M276.9 74.3h0M276.9 117.5h0M276.5 110.0h0M276.9 109.6h0M276.6 129.5h0" stroke="#ef5555" stroke-width="2.1" stroke-linecap="round" fill="none"/>
<path d="M276.1 53.4h0M276.5 57.2h0M276.4 56.5h0M277.0 53.6h0M277.0 53.8h0M277.2 55.9h0M277.6 56.0h0M277.4 56.0h0M277.6 55.9h0M278.1 55.8h0M278.2 55.9h0M278.2 56.6h0M278.5 55.2h0M278.7 57.0h0M279.1 57.6h0M279.2 58.2h0M279.3 57.1h0M279.5 57.8h0M279.6 58.4h0M279.7 57.7h0M279.9 61.2h0M280.3 60.5h0M280.6 59.1h0M280.8 60.2h0M281.0 60.7h0M281.0 58.7h0M281.3 62.9h0M281.3 58.1h0M281.6 60.3h0M282.0 59.2h0M282.1 59.7h0M282.3 64.3h0M282.6 59.5h0M282.8 60.8h0M282.8 61.6h0M282.9 60.2h0M283.1 62.6h0M283.3 62.3h0M283.8 61.6h0M283.9 62.5h0M284.1 60.9h0M284.3 63.9h0M284.4 62.9h0M284.4 63.7h0M284.7 64.2h0M285.1 65.1h0M285.1 65.0h0M285.2 65.2h0M285.3 63.3h0M285.7 65.1h0M286.1 63.4h0M286.0 63.7h0M286.2 65.5h0M286.2 63.8h0M286.5 65.1h0M286.7 65.3h0M286.8 66.5h0M287.2 65.2h0M287.4 65.4h0M287.6 68.8h0M287.7 66.2h0M288.0 64.7h0M288.0 68.9h0M288.2 68.9h0M288.5 67.4h0M288.8 66.0h0M289.1 66.6h0M289.0 68.3h0M289.2 70.6h0M289.7 69.5h0M289.5 69.9h0M289.7 66.4h0M289.8 68.1h0M290.2 71.1h0M290.3 72.8h0M290.5 69.0h0M290.7 67.5h0M291.0 71.2h0M291.3 72.4h0M291.6 68.7h0M291.7 70.1h0M291.9 73.4h0M292.1 71.3h0M292.3 73.9h0M292.6 71.0h0M292.3 72.6h0M292.8 72.0h0M293.2 75.1h0M293.3 74.5h0M293.5 73.7h0M293.5 74.6h0M293.7 74.5h0M293.9 73.7h0M294.1 75.3h0M294.5 75.2h0M294.7 72.9h0M294.5 76.5h0M294.8 74.4h0M295.1 73.1h0M295.1 72.8h0M295.6 73.5h0M295.8 76.1h0M295.8 74.1h0M296.2 76.0h0M296.3 75.2h0M296.4 76.0h0M296.6 73.3h0M297.1 78.2h0M297.1 79.3h0M297.1 77.1h0M297.3 78.9h0M297.8 75.1h0M297.6 78.6h0M297.9 80.1h0M298.2 80.1h0M298.5 76.4h0M298.5 75.8h0M298.8 78.9h0M298.9 76.6h0M299.3 78.8h0M299.6 78.0h0M299.7 77.5h0M299.9 80.4h0M300.0 79.6h0M300.3 76.9h0M300.2 87.1h0M300.5 79.1h0M300.7 78.8h0M300.9 79.9h0M301.1 79.4h0M301.3 85.8h0M301.2 75.8h0M301.5 85.0h0M301.9 79.3h0M302.2 79.7h0M302.2 81.8h0M302.4 82.8h0M302.6 83.6h0M302.8 82.7h0M303.2 79.4h0M303.0 85.1h0M303.2 84.1h0M303.4 83.1h0M303.6 84.5h0M304.0 88.5h0M304.3 84.3h0M304.5 83.5h0M304.4 83.9h0M304.5 84.7h0M304.8 86.8h0M305.1 80.6h0M305.2 81.8h0M305.3 87.5h0M305.9 84.4h0M305.8 91.7h0M306.1 89.0h0M306.5 85.7h0M306.6 85.1h0M306.8 88.4h0M306.7 81.7h0M307.0 92.4h0M307.4 91.0h0M307.5 86.7h0M307.5 84.5h0M307.8 89.2h0M308.1 82.8h0M308.1 87.5h0M308.2 86.1h0M308.6 85.8h0M308.6 88.5h0M308.9 91.0h0M308.9 89.0h0M309.3 85.2h0M309.4 85.5h0M309.6 88.2h0M309.7 87.1h0M309.9 90.7h0M310.4 91.8h0M310.7 87.9h0M310.5 88.7h0M311.0 95.7h0M310.9 88.4h0M311.2 93.3h0M311.7 87.2h0M311.6 89.0h0M311.7 84.9h0M312.1 92.6h0M312.1 90.8h0M312.3 88.5h0M312.5 94.0h0M313.0 93.4h0M312.8 93.3h0M313.1 96.1h0M313.5 92.6h0M313.6 96.0h0M313.7 89.9h0M313.8 93.8h0M314.3 92.2h0M314.1 95.1h0M314.6 89.6h0M314.6 95.9h0M314.7 91.1h0M314.9 94.7h0M315.4 92.0h0M315.7 94.8h0M315.8 91.4h0M315.7 90.3h0M316.0 99.2h0M316.3 90.6h0M316.4 94.1h0M316.8 99.5h0M316.7 93.0h0M317.1 93.9h0M317.1 98.2h0M317.5 91.1h0M317.7 91.7h0M317.6 95.3h0M317.8 96.1h0M318.0 97.5h0M318.3 93.8h0M318.7 98.2h0M318.8 98.6h0M318.9 97.7h0M319.2 99.9h0M319.5 97.5h0M319.7 97.5h0M319.9 98.0h0M320.0 97.0h0M319.9 95.8h0M320.5 97.5h0M320.6 96.6h0M320.5 92.3h0M321.0 99.9h0M321.2 102.3h0M321.5 99.3h0M321.4 97.8h0M321.8 95.0h0M322.0 101.9h0M321.8 102.5h0M322.3 102.7h0M322.6 104.1h0M322.4 98.4h0M322.9 100.2h0M323.2 101.5h0M323.4 100.9h0M323.5 96.7h0M323.4 103.6h0M323.7 101.8h0M323.9 103.3h0M324.0 100.1h0M324.2 103.0h0M324.4 107.5h0M325.0 106.1h0M324.9 102.3h0M324.9 104.5h0M325.4 96.0h0M325.5 106.0h0M325.8 97.3h0M325.9 100.2h0M326.1 98.5h0M326.1 102.3h0M326.4 111.4h0M326.4 105.0h0M326.8 101.5h0M327.0 101.7h0M327.1 98.7h0M327.4 105.9h0M327.5 100.5h0M328.1 103.6h0M328.1 104.0h0M328.4 99.7h0M328.4 101.7h0M328.6 101.5h0M328.6 102.2h0M329.2 105.5h0M329.2 105.3h0M329.4 112.7h0M329.4 113.2h0M329.5 105.5h0M330.1 103.6h0M330.0 104.1h0M330.4 109.0h0M330.4 101.5h0M330.9 115.3h0M330.8 103.4h0M330.9 113.2h0M331.2 105.1h0M331.5 110.2h0M331.5 112.8h0M331.6 102.1h0M332.2 113.1h0M332.4 109.8h0M332.4 100.5h0M332.6 113.9h0M332.9 105.9h0M332.8 105.1h0M333.2 109.0h0M333.6 110.5h0M333.6 107.3h0M333.6 107.8h0M334.2 108.6h0M334.4 109.0h0M334.3 107.8h0M334.6 113.7h0M334.7 113.9h0M334.9 109.6h0M335.3 113.7h0M335.2 117.6h0M335.6 110.9h0M335.6 105.6h0M335.8 109.2h0M336.1 108.3h0M336.5 102.2h0M336.7 112.0h0M336.8 105.1h0M336.7 111.9h0M337.0 113.4h0M337.3 116.8h0M337.5 106.4h0M337.5 112.4h0M337.6 116.8h0M337.9 104.5h0M338.0 113.5h0M338.5 116.2h0M338.6 116.0h0M338.8 107.8h0M338.8 116.3h0M339.0 113.8h0M339.2 108.0h0M339.8 116.1h0M339.8 112.3h0M339.8 110.4h0M340.0 119.1h0M340.4 112.2h0M340.6 108.9h0M340.5 109.5h0M340.9 114.5h0M341.3 112.1h0M341.4 121.4h0M341.3 115.7h0M341.5 107.0h0M342.0 114.0h0M342.3 116.0h0M342.3 112.0h0M342.6 113.5h0M342.4 116.6h0M342.6 113.7h0M343.1 110.0h0M343.3 113.4h0M343.4 110.8h0M343.8 109.9h0M343.8 119.4h0M343.8 107.6h0M344.3 120.2h0M344.5 119.9h0M344.7 109.1h0M344.9 112.0h0M345.2 112.2h0M345.2 115.6h0M345.2 117.0h0M345.4 125.9h0M345.9 118.5h0M345.8 117.6h0M346.1 119.5h0M346.1 112.8h0M346.3 122.4h0M346.5 110.3h0M346.9 111.2h0M347.0 118.4h0M347.1 110.2h0M347.6 112.6h0M347.8 121.6h0M347.8 116.1h0M347.9 117.2h0M348.4 130.4h0M348.2 117.2h0M348.7 113.7h0M348.8 110.1h0M349.2 120.6h0M349.2 117.1h0M349.2 113.2h0M349.5 123.4h0M349.8 115.7h0M349.7 109.2h0M350.2 115.8h0M350.4 114.2h0M350.3 122.2h0M350.8 115.4h0M350.9 118.9h0M351.4 117.6h0M351.4 115.9h0M351.4 117.9h0M351.6 119.7h0M351.9 113.5h0M352.3 137.8h0M352.1 121.5h0M352.7 129.5h0M352.8 122.9h0M352.8 125.0h0M352.9 125.8h0M353.5 116.7h0M353.5 133.3h0M353.8 122.9h0M353.8 112.5h0M354.0 123.4h0M354.2 124.0h0M354.3 115.9h0M354.8 118.4h0M354.7 126.0h0M354.9 119.7h0M354.9 122.2h0M355.6 118.2h0M355.6 127.0h0M355.7 119.0h0M355.8 119.8h0M356.0 119.1h0M356.6 121.9h0M356.4 129.1h0M356.5 115.5h0M356.7 124.9h0M357.0 143.2h0M357.4 131.0h0M357.3 134.5h0M357.7 117.1h0M357.8 118.3h0M357.8 124.5h0M358.4 119.6h0M358.3 118.3h0M358.7 125.1h0M359.0 119.9h0M359.1 124.4h0M359.5 125.3h0M359.6 124.1h0M359.8 123.7h0M359.6 124.1h0M360.0 120.0h0M360.4 117.4h0M360.2 129.2h0M360.6 127.5h0M360.7 115.6h0M360.7 125.2h0M361.1 128.1h0M361.3 116.4h0M361.5 120.9h0M361.7 127.1h0M361.7 125.9h0M362.4 117.5h0M362.1 127.0h0M362.4 131.7h0M362.5 130.6h0M363.0 121.9h0M362.9 121.2h0M363.3 121.5h0M363.5 130.2h0M363.7 133.7h0M363.8 127.1h0M364.1 124.3h0M364.4 129.1h0M364.6 123.4h0M364.9 129.9h0M364.8 129.4h0M365.2 123.1h0M365.2 124.0h0M365.5 124.0h0M365.8 123.8h0M365.6 131.0h0M365.7 124.7h0M366.0 127.6h0M366.4 119.2h0M366.4 122.5h0M366.6 120.3h0M366.8 127.3h0M366.9 126.2h0M367.1 145.3h0M367.7 124.5h0M367.7 130.3h0M368.0 129.4h0M368.1 130.1h0M368.1 132.3h0M368.6 116.2h0M368.6 118.9h0M369.0 122.5h0M369.0 119.5h0M369.4 123.2h0M369.3 119.1h0M369.5 129.1h0M369.7 126.6h0M369.9 120.4h0M370.1 125.7h0M370.6 137.3h0M370.4 124.8h0M371.0 119.7h0M371.1 123.4h0M371.3 130.4h0M371.3 127.8h0M371.7 121.8h0M371.8 122.3h0M371.9 119.9h0M372.0 142.3h0M372.5 134.0h0M372.7 135.2h0M372.5 119.9h0M372.8 116.6h0M372.9 152.0h0M373.0 116.9h0M373.7 118.3h0M373.5 122.0h0M373.7 120.3h0M374.0 128.6h0M374.5 130.2h0M374.7 130.5h0M374.4 146.1h0M374.9 126.6h0M374.8 118.7h0M375.2 132.9h0M375.2 128.0h0M375.5 113.9h0M376.0 125.7h0M375.8 123.2h0M376.1 123.5h0M376.2 124.3h0M376.7 120.8h0M376.7 131.6h0M376.9 128.3h0M377.0 123.7h0M377.6 131.5h0M377.4 121.8h0M377.6 136.8h0M377.7 128.8h0M378.1 126.4h0M378.2 136.9h0M378.2 124.7h0M378.7 132.7h0M378.9 139.8h0M379.2 136.9h0M379.4 160.0h0M379.4 134.1h0M379.9 126.0h0M379.8 134.6h0M379.8 125.4h0M380.3 128.6h0M380.6 129.3h0M380.5 129.6h0M380.7 121.8h0M381.2 128.5h0M381.3 126.6h0M381.5 127.9h0M381.5 130.8h0M381.7 135.4h0M382.2 137.5h0M382.3 120.8h0M382.3 129.8h0M382.8 146.3h0M383.0 130.3h0M383.1 137.6h0M383.4 141.5h0M383.4 131.7h0M383.5 136.8h0M383.9 137.2h0M384.1 131.7h0M384.4 119.0h0M384.3 139.5h0M384.5 131.5h0M384.9 124.1h0M385.0 134.5h0M385.1 128.7h0M385.6 135.7h0M385.8 142.6h0M386.0 128.5h0M385.9 129.5h0M386.4 132.4h0M386.2 129.5h0M386.4 134.3h0M386.9 126.4h0M387.0 127.5h0M387.1 134.0h0M387.6 130.3h0M387.5 133.8h0M387.9 139.5h0M388.0 131.0h0M388.0 135.5h0M388.2 136.9h0M388.4 132.0h0M388.5 132.4h0M388.9 130.6h0M389.2 127.8h0M389.2 130.1h0M389.6 134.0h0M389.5 127.5h0M389.7 143.0h0M390.0 145.3h0M390.2 129.4h0M390.2 143.6h0M390.7 139.1h0M390.7 129.7h0M391.2 142.3h0M391.1 127.1h0M391.6 140.2h0M391.4 126.8h0M391.7 123.3h0M392.0 134.2h0M392.3 133.6h0M392.3 130.1h0M392.7 142.2h0M392.9 133.7h0M392.9 124.6h0M393.1 131.0h0M393.3 128.9h0M393.7 139.7h0M393.7 141.7h0M394.1 129.8h0M394.0 139.0h0M394.0 146.0h0M394.6 136.9h0M394.8 142.7h0M394.6 129.4h0M395.2 129.7h0M395.4 130.6h0M395.5 131.2h0M395.7 124.7h0M395.8 129.7h0M396.0 124.6h0M396.2 129.7h0M396.6 122.8h0M396.4 133.4h0M396.5 138.1h0M397.2 126.9h0M397.1 134.2h0M397.2 128.5h0M397.6 128.3h0M397.7 141.9h0M398.1 128.4h0M398.3 131.7h0M398.2 130.4h0M398.3 138.4h0M398.7 141.6h0M398.9 135.4h0M399.2 140.6h0M399.1 137.5h0M399.3 126.9h0M399.6 138.8h0M399.9 142.6h0M400.0 135.5h0M400.1 136.0h0M400.5 123.9h0M400.6 131.1h0M401.0 145.8h0M400.8 155.5h0M401.2 129.6h0M401.6 135.8h0M401.4 136.1h0M402.0 138.4h0M402.0 137.1h0M402.3 131.9h0M402.5 144.4h0M402.7 135.9h0M402.6 130.1h0M402.7 130.6h0M402.9 137.2h0M403.3 131.1h0M403.8 135.5h0M403.7 122.6h0M403.9 126.0h0M404.5 131.2h0M404.5 136.3h0M404.6 130.2h0M405.1 139.3h0M405.0 136.6h0M405.4 132.8h0M405.7 138.9h0M405.6 136.6h0M405.9 133.9h0M405.8 133.6h0M406.2 127.4h0M406.5 136.3h0M406.4 144.7h0M407.0 133.6h0M407.2 138.9h0M407.1 128.2h0M407.3 139.1h0M407.8 135.4h0M407.6 146.4h0M408.0 159.1h0M408.2 134.2h0M408.2 132.3h0M408.7 133.6h0M408.9 132.8h0M408.7 140.6h0M409.5 151.4h0M409.4 137.2h0M409.7 137.9h0M409.7 135.7h0M410.2 126.0h0M410.3 136.8h0M410.3 133.4h0M410.7 154.1h0M410.8 140.7h0M410.8 128.6h0M411.3 134.3h0M411.3 130.3h0M411.6 129.8h0M411.6 138.7h0M412.2 140.5h0M412.4 144.8h0M412.4 126.2h0M412.8 134.5h0M412.6 133.8h0M412.8 148.5h0M413.1 136.3h0M413.4 132.1h0M413.5 129.6h0M413.6 134.2h0M413.7 130.2h0M414.1 135.7h0M414.5 124.8h0M414.5 123.2h0M414.8 135.1h0M414.8 150.9h0M415.2 142.5h0M415.0 133.7h0M415.4 132.4h0M415.9 144.3h0M415.6 137.7h0M416.1 142.6h0M416.4 139.9h0M416.3 137.7h0M416.7 139.9h0M416.9 135.0h0M417.1 137.4h0M417.4 134.6h0M417.4 144.9h0M417.8 136.3h0M417.7 137.9h0M417.8 140.3h0M418.3 135.6h0M418.3 139.4h0M418.4 141.8h0M418.7 135.8h0M419.2 132.8h0M419.1 126.7h0M419.3 137.8h0M419.6 134.7h0M420.1 134.5h0M420.2 129.1h0M420.2 129.1h0M420.3 131.8h0M420.8 128.5h0M420.7 140.5h0M421.3 130.5h0M421.5 131.8h0M421.6 155.4h0M422.0 132.4h0M421.9 155.5h0M422.4 130.2h0M422.2 140.6h0M422.5 127.4h0M423.0 141.1h0M423.0 137.6h0M423.0 133.5h0M423.7 137.5h0M423.9 152.8h0M424.0 131.0h0M424.1 127.5h0M424.1 144.5h0M424.4 149.3h0M424.8 156.1h0M424.7 132.2h0M425.1 155.6h0M425.4 135.0h0M425.4 138.2h0M425.6 146.9h0M425.7 144.8h0M426.1 150.7h0M426.2 128.9h0M426.5 133.9h0M426.6 135.7h0M426.6 148.2h0M427.1 156.4h0M427.1 127.7h0M427.3 135.4h0M427.5 132.6h0M428.0 141.1h0M427.9 158.3h0M428.2 153.7h0M428.6 131.3h0M428.4 141.9h0M428.8 136.9h0M428.7 143.8h0M429.1 131.8h0M429.5 126.3h0M429.3 139.3h0M429.7 132.8h0M429.9 133.8h0M430.3 148.3h0M430.1 131.5h0M430.6 148.4h0M431.0 133.4h0M431.1 145.6h0M431.4 146.3h0M431.4 132.7h0M431.9 145.6h0M431.9 128.4h0M432.1 134.8h0M432.4 158.5h0M432.5 135.7h0M432.5 139.8h0M432.6 142.1h0M432.8 127.4h0M433.2 145.5h0M433.3 142.3h0M433.7 141.2h0M433.9 144.6h0M433.9 145.9h0M434.4 150.2h0M434.4 142.6h0M434.5 136.3h0M435.0 156.3h0M434.8 143.6h0M434.9 157.5h0M435.4 148.6h0M435.9 134.7h0M435.7 133.7h0M436.0 140.7h0M436.0 146.1h0M436.7 142.9h0M436.9 133.7h0M437.1 137.9h0M436.9 134.7h0M437.0 144.7h0M437.3 133.6h0M437.9 148.1h0M437.7 136.0h0M438.0 136.0h0M438.4 127.6h0M438.3 152.8h0M438.4 155.6h0M438.8 140.4h0M439.1 152.8h0M439.1 140.7h0M439.6 148.8h0M439.6 148.9h0M439.6 142.2h0M440.1 140.6h0M440.2 143.5h0M440.2 158.0h0M440.4 129.0h0M440.8 133.0h0M441.0 137.0h0M440.9 160.2h0M441.2 134.3h0M442.1 140.0h0M442.2 151.6h0M442.4 146.4h0M442.4 135.2h0M442.6 135.5h0M442.8 129.4h0M442.8 152.5h0M443.4 134.6h0M443.8 138.2h0M443.7 147.8h0M444.0 154.1h0M444.3 144.2h0M444.5 129.3h0M444.7 135.3h0M444.7 133.1h0M445.1 130.4h0M445.3 156.4h0M445.1 155.6h0M445.6 145.5h0M445.7 157.3h0M446.0 160.3h0M446.1 154.4h0M446.6 141.4h0M446.9 138.5h0M447.0 139.6h0M446.8 151.4h0M447.0 138.4h0M447.5 149.7h0M447.4 138.1h0M447.8 137.4h0M448.4 148.2h0M448.5 138.0h0M448.5 138.7h0M448.6 148.5h0M449.1 134.2h0M449.3 138.5h0M449.4 130.2h0M449.3 131.0h0M449.8 139.8h0M450.0 145.4h0M450.3 141.1h0M450.3 151.7h0M450.6 147.5h0M451.0 140.2h0M451.1 129.7h0M451.3 136.1h0M451.1 144.6h0M451.5 147.9h0M451.8 142.1h0M451.8 145.4h0M451.9 154.6h0M452.1 149.6h0M452.6 139.1h0M452.5 154.8h0M452.9 143.9h0M453.1 140.8h0M453.3 137.3h0M453.6 131.8h0M453.8 145.6h0M453.6 145.6h0M454.3 130.1h0M454.4 141.8h0M454.4 143.9h0M454.8 136.2h0M454.7 136.7h0M455.0 143.7h0M455.5 159.3h0M455.5 131.8h0M455.6 140.2h0M456.1 141.0h0M456.5 139.0h0M456.7 140.8h0M456.5 156.0h0M456.9 136.0h0M456.9 137.3h0M457.5 143.6h0M457.6 141.9h0M457.6 127.4h0M458.0 154.1h0M458.0 134.8h0M458.5 138.3h0M276.5 146.9h0M277.0 65.1h0M276.8 120.5h0M277.4 106.5h0M277.1 78.6h0M276.7 148.6h0M276.9 68.4h0" stroke="#3c7ee0" stroke-width="2.1" stroke-linecap="round" fill="none"/>
<path d="M276.0 54.8h0M276.4 55.1h0M276.7 57.1h0M276.7 56.9h0M276.7 54.3h0M277.1 56.0h0M277.5 59.3h0M277.4 56.7h0M277.7 60.0h0M277.8 61.1h0M277.9 57.9h0M278.2 61.3h0M278.5 59.5h0M278.8 61.3h0M279.0 60.7h0M278.9 64.4h0M279.4 59.2h0M279.2 60.8h0M279.9 62.6h0M279.7 63.9h0M280.1 66.8h0M280.5 69.3h0M280.2 65.9h0M280.8 65.3h0M280.9 63.3h0M280.9 64.5h0M281.2 67.5h0M281.2 69.5h0M281.8 68.0h0M281.5 73.7h0M282.1 68.4h0M282.2 72.5h0M282.5 72.9h0M282.3 73.2h0M282.6 69.5h0M282.9 71.4h0M282.9 69.6h0M283.5 73.1h0M283.3 72.8h0M283.8 76.5h0M283.7 74.0h0M284.3 73.0h0M284.1 77.6h0M284.6 76.6h0M284.5 74.0h0M284.8 80.8h0M284.9 78.6h0M285.3 74.4h0M285.2 74.6h0M285.4 79.2h0M285.9 76.5h0M286.0 77.2h0M286.3 82.5h0M286.5 79.7h0M286.7 77.6h0M287.0 83.3h0M286.8 79.6h0M287.3 85.8h0M287.6 80.9h0M287.4 85.2h0M287.9 80.8h0M287.8 84.7h0M288.1 84.8h0M288.1 82.2h0M288.6 93.3h0M288.9 82.7h0M289.2 85.2h0M289.2 91.9h0M289.3 86.7h0M289.3 84.7h0M289.9 86.4h0M289.8 82.2h0M290.3 87.2h0M290.4 93.7h0M290.6 89.9h0M290.6 89.1h0M290.9 91.2h0M291.3 91.7h0M291.3 88.0h0M291.4 87.2h0M291.8 87.8h0M291.9 92.1h0M291.9 89.9h0M292.1 91.8h0M292.3 91.4h0M292.7 92.4h0M292.7 90.5h0M293.1 92.8h0M293.3 95.0h0M293.2 98.9h0M293.6 93.6h0M293.6 93.1h0M294.0 94.7h0M294.2 87.2h0M294.4 97.4h0M294.4 99.1h0M294.4 94.1h0M294.8 95.0h0M295.1 94.8h0M295.5 94.8h0M295.6 97.4h0M295.5 99.3h0M295.8 94.5h0M296.1 95.4h0M296.0 103.3h0M296.6 95.7h0M296.4 101.7h0M297.0 92.9h0M297.2 97.2h0M297.3 92.3h0M297.2 98.7h0M297.8 98.4h0M297.8 96.3h0M298.0 95.2h0M298.0 98.6h0M298.6 97.9h0M298.6 104.3h0M298.6 96.7h0M299.1 99.7h0M298.9 100.2h0M299.4 97.4h0M299.3 101.7h0M299.6 100.3h0M299.9 104.2h0M300.2 99.3h0M300.2 99.7h0M300.3 107.1h0M300.5 97.8h0M300.8 101.3h0M301.1 98.7h0M301.0 111.8h0M301.5 101.2h0M301.4 101.2h0M301.8 105.4h0M302.1 99.9h0M302.0 100.4h0M302.2 100.1h0M302.5 100.5h0M302.6 105.5h0M302.9 102.9h0M303.2 115.7h0M303.1 102.2h0M303.6 102.9h0M303.9 98.4h0M303.7 97.6h0M304.4 106.4h0M304.2 107.8h0M304.7 105.2h0M304.6 104.4h0M305.1 103.3h0M304.9 112.7h0M305.3 103.6h0M305.6 106.4h0M305.6 102.9h0M305.9 98.0h0M305.9 98.5h0M306.3 100.2h0M306.2 105.3h0M306.7 113.9h0M306.7 104.7h0M307.1 112.7h0M307.0 106.1h0M307.5 103.1h0M307.8 118.9h0M307.6 113.6h0M307.8 100.5h0M308.0 115.7h0M308.2 112.7h0M308.4 102.6h0M308.6 105.8h0M309.2 106.9h0M309.1 113.5h0M309.6 107.4h0M309.4 107.8h0M309.9 113.0h0M309.9 106.5h0M310.0 102.0h0M310.5 107.7h0M310.5 102.9h0M310.5 95.1h0M310.8 104.2h0M311.0 108.7h0M311.2 108.2h0M311.3 108.7h0M311.7 107.9h0M311.7 108.0h0M312.1 114.2h0M312.0 106.5h0M312.6 108.0h0M312.4 106.1h0M312.8 105.0h0M313.2 104.5h0M313.0 105.5h0M313.4 107.3h0M313.8 113.3h0M313.8 107.2h0M313.8 102.3h0M314.4 119.4h0M314.5 109.9h0M314.3 108.0h0M314.6 105.4h0M315.2 108.4h0M315.1 105.9h0M315.5 112.6h0M315.5 106.8h0M315.5 116.2h0M315.9 108.8h0M316.2 103.3h0M316.1 101.3h0M316.2 117.4h0M316.5 105.0h0M316.9 113.1h0M317.0 109.5h0M317.2 106.3h0M317.5 110.2h0M317.7 111.1h0M318.0 117.4h0M317.8 108.4h0M318.3 117.6h0M318.5 108.6h0M318.7 105.2h0M318.6 101.1h0M318.8 123.6h0M319.1 105.3h0M319.2 101.8h0M319.7 112.3h0M319.9 114.7h0M319.7 105.2h0M320.0 109.4h0M320.1 107.0h0M320.5 107.1h0M320.5 106.8h0M320.9 122.5h0M321.0 116.4h0M321.1 111.6h0M321.5 115.5h0M321.5 104.2h0M321.8 109.5h0M322.2 103.6h0M322.3 112.3h0M322.7 115.8h0M322.5 116.6h0M322.7 110.0h0M323.2 114.8h0M323.4 119.3h0M323.4 116.6h0M323.6 110.3h0M323.9 109.8h0M323.7 110.9h0M324.0 108.9h0M324.2 110.8h0M324.4 111.1h0M324.5 114.3h0M324.7 130.8h0M325.0 101.5h0M325.2 116.4h0M325.5 115.3h0M325.7 111.5h0M325.7 111.0h0M325.9 109.4h0M326.4 106.0h0M326.4 107.7h0M326.6 109.1h0M326.9 119.9h0M327.1 107.3h0M327.0 102.7h0M327.4 107.3h0M327.7 105.8h0M328.0 110.1h0M327.8 104.0h0M328.3 114.0h0M328.6 112.9h0M328.4 110.4h0M328.9 114.9h0M328.8 113.8h0M329.2 112.4h0M329.2 106.7h0M329.4 107.5h0M329.9 117.3h0M329.7 108.9h0M330.0 112.0h0M330.4 115.1h0M330.7 114.0h0M330.6 118.7h0M330.8 114.4h0M330.9 105.9h0M331.5 110.5h0M331.6 104.7h0M331.6 104.6h0M331.8 114.0h0M332.1 112.0h0M332.0 113.4h0M332.3 106.9h0M332.9 110.1h0M332.7 108.3h0M332.8 115.9h0M333.1 118.6h0M333.5 112.2h0M333.4 122.0h0M333.6 113.5h0M333.9 116.6h0M334.3 108.6h0M334.4 111.3h0M334.7 108.2h0M334.7 111.5h0M335.2 117.2h0M334.9 106.7h0M335.3 115.0h0M335.3 114.9h0M336.0 115.4h0M335.9 110.2h0M336.2 113.6h0M336.4 112.8h0M336.6 110.6h0M336.6 114.3h0M336.7 111.6h0M337.0 110.9h0M337.4 112.7h0M337.2 110.9h0M337.5 110.7h0M337.7 123.8h0M337.9 114.4h0M338.1 112.0h0M338.2 118.3h0M338.4 112.0h0M338.7 102.2h0M339.2 113.2h0M339.2 126.1h0M339.3 107.0h0M339.6 114.5h0M339.6 114.4h0M339.8 122.1h0M340.3 110.6h0M340.3 113.3h0M340.5 112.7h0M341.0 109.3h0M340.8 107.7h0M341.0 106.1h0M341.2 113.0h0M341.5 117.8h0M341.7 109.0h0M341.6 124.0h0M342.3 112.4h0M342.5 120.8h0M342.6 117.9h0M342.5 105.8h0M342.8 116.4h0M343.0 109.7h0M343.4 110.5h0M343.4 110.9h0M343.7 121.1h0M343.7 122.6h0M344.2 106.4h0M344.3 117.9h0M344.3 112.9h0M344.7 124.7h0M344.6 121.5h0M345.0 107.6h0M345.1 118.6h0M345.5 106.5h0M345.4 108.1h0M346.0 123.6h0M346.0 113.6h0M345.9 122.4h0M346.3 109.5h0M346.4 118.5h0M346.9 111.7h0M346.8 124.0h0M346.9 115.6h0M347.2 110.6h0M347.3 106.1h0M347.4 112.2h0M347.7 107.1h0M348.0 110.5h0M348.5 122.4h0M348.3 109.0h0M348.6 122.2h0M349.0 123.2h0M349.2 114.2h0M349.2 118.5h0M349.6 109.0h0M349.6 110.0h0M350.0 119.7h0M350.1 113.3h0M350.1 112.6h0M350.6 109.7h0M350.8 114.8h0M350.5 116.5h0M351.0 118.9h0M351.1 117.0h0M351.5 109.4h0M351.7 110.9h0M351.8 116.4h0M352.1 111.4h0M352.3 112.1h0M352.3 105.6h0M352.7 120.8h0M352.5 109.3h0M353.0 115.6h0M352.9 110.3h0M353.3 120.7h0M353.3 116.0h0M353.7 98.8h0M354.0 121.4h0M354.0 110.2h0M354.3 105.9h0M354.6 111.3h0M354.5 118.2h0M355.0 109.1h0M355.2 113.5h0M355.4 109.2h0M355.4 116.2h0M355.7 110.4h0M355.7 109.4h0M355.8 117.9h0M356.1 117.0h0M356.1 121.1h0M356.3 115.0h0M356.8 119.4h0M356.8 108.6h0M356.9 114.8h0M357.3 109.2h0M357.5 112.0h0M357.8 116.7h0M358.0 114.8h0M358.0 124.6h0M358.0 109.3h0M358.7 127.6h0M358.4 116.9h0M359.0 114.1h0M359.0 116.1h0M359.3 117.6h0M359.5 110.7h0M359.5 115.0h0M359.8 114.0h0M360.1 112.2h0M360.0 116.0h0M360.2 112.3h0M360.6 113.5h0M360.6 111.2h0M361.2 121.3h0M361.1 114.4h0M361.2 110.2h0M361.6 117.2h0M361.5 113.3h0M362.0 112.8h0M362.0 110.6h0M362.3 116.3h0M362.4 120.5h0M362.5 109.6h0M362.6 111.2h0M363.2 121.0h0M363.3 116.0h0M363.7 120.7h0M363.6 120.3h0M363.9 112.4h0M364.3 120.3h0M364.1 124.0h0M364.6 123.4h0M364.7 108.9h0M365.0 117.7h0M365.0 120.2h0M365.0 118.4h0M365.6 113.7h0M365.5 115.2h0M365.8 116.8h0M366.2 121.2h0M366.1 115.5h0M366.4 132.0h0M366.5 118.2h0M366.8 118.4h0M367.1 111.6h0M367.1 116.1h0M367.2 111.2h0M367.4 110.8h0M367.6 119.5h0M368.0 114.5h0M367.8 118.8h0M368.4 115.2h0M368.3 114.2h0M368.5 115.7h0M369.0 114.2h0M369.3 118.2h0M369.3 131.5h0M369.6 114.1h0M369.6 117.1h0M370.0 113.2h0M370.0 109.1h0M370.3 108.5h0M370.4 110.8h0M370.4 114.7h0M370.6 116.4h0M371.0 109.2h0M371.0 115.1h0M371.4 114.5h0M371.6 113.6h0M372.0 111.8h0M371.9 117.2h0M372.0 119.6h0M372.6 113.9h0M372.3 109.3h0M372.5 116.6h0M373.0 113.7h0M372.9 112.7h0M373.0 126.0h0M373.4 118.0h0M373.6 114.8h0M374.1 124.4h0M374.0 120.7h0M374.5 119.6h0M374.5 110.1h0M374.5 128.1h0M374.9 114.3h0M374.8 112.4h0M375.2 113.8h0M375.2 127.8h0M375.7 115.1h0M375.8 122.7h0M376.2 117.5h0M376.4 122.9h0M376.3 110.9h0M376.5 120.2h0M376.9 118.2h0M377.1 107.5h0M377.2 110.7h0M377.2 140.2h0M377.6 116.7h0M377.5 121.5h0M377.8 113.3h0M378.3 122.4h0M378.4 108.2h0M378.3 111.5h0M378.9 116.5h0M378.9 125.3h0M378.9 132.3h0M379.4 112.1h0M379.3 113.9h0M379.8 114.7h0M379.7 127.1h0M380.1 114.3h0M380.2 118.7h0M380.5 119.3h0M380.5 115.6h0M380.7 110.6h0M381.2 108.1h0M381.1 124.5h0M381.5 128.4h0M381.5 122.1h0M382.0 114.0h0M381.9 121.9h0M382.0 111.6h0M382.4 112.0h0M382.5 105.7h0M382.8 112.7h0M382.9 112.8h0M383.0 112.4h0M383.3 117.0h0M383.3 118.9h0M383.5 111.6h0M383.9 129.3h0M384.2 128.2h0M384.2 116.0h0M384.3 114.7h0M384.8 119.1h0M384.8 115.3h0M385.0 115.4h0M385.2 112.0h0M385.6 108.9h0M385.5 117.8h0M386.0 108.1h0M386.1 132.7h0M386.3 130.0h0M386.4 131.8h0M386.4 120.2h0M386.9 110.7h0M387.1 123.7h0M387.3 117.3h0M387.6 112.6h0M387.6 115.3h0M387.8 119.6h0M387.7 121.0h0M388.1 116.3h0M388.2 122.9h0M388.5 117.9h0M388.5 117.6h0M389.1 126.9h0M389.3 130.2h0M389.1 109.7h0M389.4 136.1h0M389.7 126.7h0M389.7 118.8h0M389.9 117.1h0M390.3 120.0h0M390.7 111.7h0M390.8 120.5h0M390.9 123.7h0M391.1 132.5h0M391.1 121.6h0M391.6 122.4h0M391.5 121.5h0M391.5 116.6h0M392.0 118.8h0M392.0 116.8h0M392.5 112.9h0M392.8 123.1h0M393.0 127.4h0M392.7 122.8h0M392.9 128.2h0M393.2 137.9h0M393.5 112.9h0M393.9 113.5h0M393.9 118.4h0M393.9 118.3h0M394.1 119.6h0M394.7 117.5h0M394.5 121.1h0M394.8 114.4h0M395.3 123.9h0M395.0 127.4h0M395.6 114.5h0M395.7 116.3h0M395.7 119.2h0M396.1 115.9h0M396.4 115.0h0M396.5 105.8h0M396.7 119.7h0M396.8 114.7h0M396.9 112.4h0M397.0 115.8h0M397.2 121.8h0M397.7 115.1h0M397.6 113.8h0M398.0 127.9h0M398.1 119.3h0M398.1 120.1h0M398.5 119.5h0M398.6 118.5h0M399.1 111.3h0M399.1 119.1h0M399.2 116.9h0M399.3 124.8h0M399.8 112.3h0M399.9 116.4h0M400.3 125.4h0M400.0 122.4h0M400.2 121.7h0M400.7 120.7h0M400.8 117.4h0M401.2 122.1h0M401.1 113.9h0M401.3 116.9h0M401.8 115.9h0M401.6 121.3h0M401.8 126.2h0M402.2 112.8h0M402.2 113.0h0M402.6 121.1h0M402.7 121.1h0M403.1 113.2h0M403.1 114.7h0M403.3 115.9h0M403.6 113.4h0M403.5 111.2h0M403.8 113.9h0M403.9 123.1h0M404.4 117.7h0M404.4 115.2h0M404.8 120.1h0M405.0 118.9h0M405.0 114.8h0M405.3 118.8h0M405.7 118.2h0M405.6 117.8h0M405.8 121.3h0M406.0 117.3h0M406.4 113.2h0M406.6 123.8h0M406.6 109.8h0M406.6 116.3h0M407.1 115.5h0M407.4 122.7h0M407.1 128.7h0M407.4 122.5h0M407.7 133.4h0M408.1 114.0h0M408.1 117.9h0M408.4 122.2h0M408.4 126.2h0M408.5 114.9h0M408.7 121.2h0M409.2 122.2h0M409.1 136.0h0M409.3 114.8h0M409.6 128.2h0M409.7 120.7h0M410.0 120.9h0M410.2 109.8h0M410.7 141.2h0M410.7 118.1h0M411.1 136.0h0M411.1 131.4h0M411.1 135.6h0M411.3 128.4h0M411.6 121.4h0M411.7 130.0h0M411.9 121.2h0M412.2 128.8h0M412.5 120.9h0M412.5 118.1h0M412.9 115.0h0M413.0 123.9h0M413.0 133.4h0M413.3 115.3h0M413.4 124.2h0M413.9 129.9h0M413.9 116.1h0M414.1 121.4h0M414.2 125.3h0M414.6 123.0h0M414.8 116.3h0M415.0 119.9h0M415.2 117.2h0M415.4 125.1h0M415.4 130.0h0M415.4 116.5h0M416.1 119.1h0M416.3 131.9h0M416.4 122.5h0M416.2 120.5h0M416.8 116.4h0M416.8 121.8h0M416.9 129.2h0M417.4 133.0h0M417.6 120.5h0M417.5 117.4h0M417.7 126.5h0M417.8 117.9h0M418.1 122.0h0M418.3 112.9h0M418.7 127.6h0M418.6 117.1h0M419.1 125.8h0M419.3 123.7h0M419.3 119.5h0M419.4 128.9h0M419.5 117.2h0M419.7 126.5h0M420.0 118.2h0M420.4 121.2h0M420.5 127.6h0M420.8 121.2h0M420.9 120.6h0M421.2 122.8h0M421.5 118.2h0M421.5 120.9h0M421.5 115.0h0M421.9 117.1h0M422.1 120.6h0M422.1 125.1h0M422.3 122.0h0M422.8 127.3h0M422.6 119.2h0M423.2 117.9h0M423.0 122.3h0M423.1 127.5h0M423.7 125.2h0M423.9 120.3h0M423.9 126.9h0M424.1 120.1h0M424.2 122.2h0M424.7 130.9h0M424.7 130.9h0M424.7 132.1h0M425.0 116.0h0M425.5 122.0h0M425.3 129.7h0M425.4 126.6h0M425.7 121.2h0M426.0 117.8h0M426.3 119.3h0M426.5 124.7h0M426.9 114.6h0M426.8 119.1h0M427.0 116.8h0M427.4 119.8h0M427.3 125.8h0M427.6 127.1h0M427.7 116.2h0M427.9 112.1h0M428.0 115.9h0M428.3 127.0h0M428.5 129.7h0M428.7 119.6h0M429.2 127.6h0M429.0 126.9h0M429.4 118.3h0M429.5 126.2h0M429.6 129.1h0M430.1 121.0h0M430.0 130.3h0M430.2 122.8h0M430.7 124.2h0M430.7 126.8h0M430.9 133.0h0M431.1 121.6h0M431.4 119.5h0M431.3 123.3h0M431.7 115.4h0M431.7 119.7h0M432.1 117.2h0M432.3 118.7h0M432.2 118.2h0M432.6 126.5h0M432.9 115.7h0M432.9 121.6h0M433.2 132.5h0M433.5 119.5h0M433.5 131.3h0M433.9 148.0h0M434.0 118.5h0M433.9 117.3h0M434.6 118.4h0M434.4 115.0h0M434.9 125.0h0M434.9 118.6h0M434.9 114.7h0M435.5 118.6h0M435.6 127.9h0M435.5 140.1h0M436.1 125.9h0M436.0 124.1h0M436.1 122.2h0M436.3 116.7h0M436.5 119.9h0M437.1 124.8h0M437.2 119.1h0M437.2 113.3h0M437.6 143.9h0M437.8 126.4h0M437.9 112.7h0M438.2 123.2h0M438.2 121.0h0M438.2 135.5h0M438.7 133.4h0M438.8 137.7h0M438.8 121.3h0M439.3 119.3h0M439.5 125.1h0M439.5 123.6h0M439.6 115.7h0M439.9 120.8h0M440.1 112.2h0M440.4 125.3h0M440.6 123.8h0M440.6 120.0h0M440.8 128.4h0M441.0 124.9h0M441.3 135.3h0M441.5 117.1h0M441.7 114.6h0M442.0 123.0h0M442.0 128.4h0M442.1 123.0h0M442.5 126.7h0M442.7 131.0h0M442.7 123.4h0M443.2 124.4h0M443.1 124.0h0M443.4 120.6h0M443.7 132.4h0M443.7 117.6h0M444.2 117.6h0M444.3 122.2h0M444.3 135.9h0M444.4 132.8h0M444.5 145.0h0M444.8 131.7h0M445.0 120.7h0M445.1 120.5h0M445.4 129.5h0M445.7 128.3h0M445.9 126.4h0M446.3 132.6h0M446.0 121.8h0M446.2 121.0h0M446.8 126.3h0M446.7 132.9h0M447.2 128.1h0M447.1 128.4h0M447.5 116.6h0M447.6 128.5h0M447.6 130.1h0M447.8 131.6h0M448.2 133.8h0M448.6 125.0h0M448.8 127.8h0M448.6 120.6h0M448.9 123.3h0M449.1 119.2h0M449.3 121.3h0M449.7 131.6h0M449.9 123.4h0M449.7 121.7h0M450.1 122.1h0M450.5 118.3h0M450.8 119.4h0M450.8 124.5h0M450.9 123.3h0M451.0 119.8h0M451.1 127.8h0M451.5 118.7h0M451.6 127.6h0M451.9 123.7h0M451.9 141.8h0M452.2 140.3h0M452.5 118.6h0M452.7 132.9h0M452.7 127.9h0M452.8 141.9h0M453.2 130.2h0M453.2 114.9h0M453.7 142.2h0M453.8 135.5h0M453.8 136.8h0M454.3 128.7h0M454.2 117.3h0M454.6 132.1h0M454.5 134.2h0M455.0 131.4h0M455.1 123.5h0M455.2 119.6h0M455.7 119.4h0M455.9 128.4h0M455.7 118.9h0M456.3 125.8h0M456.1 128.1h0M456.3 126.6h0M456.6 132.6h0M456.7 133.5h0M457.1 125.7h0M457.2 131.6h0M457.4 113.5h0M457.6 123.5h0M457.9 113.0h0M458.2 122.7h0M458.1 132.2h0M458.4 124.3h0M276.7 109.9h0M276.9 151.8h0M277.4 81.8h0M277.1 99.6h0M276.5 102.4h0M277.4 88.3h0M277.1 129.0h0" stroke="#52b071" stroke-width="2.1" stroke-linecap="round" fill="none"/>
<rect x="276.30" y="14.20" width="183.00" height="147.20" fill="none" stroke="#2b2b2b" stroke-width="1.1" />
<line x1="276.20" y1="161.40" x2="276.20" y2="164.40" stroke="#2b2b2b" stroke-width="1" />
<text x="276.20" y="176.20" font-size="12.6" text-anchor="middle" fill="#1a1a1a" font-weight="400" >0</text>
<line x1="312.76" y1="161.40" x2="312.76" y2="164.40" stroke="#2b2b2b" stroke-width="1" />
<text x="312.76" y="176.20" font-size="12.6" text-anchor="middle" fill="#1a1a1a" font-weight="400" >100</text>
<line x1="349.32" y1="161.40" x2="349.32" y2="164.40" stroke="#2b2b2b" stroke-width="1" />
<text x="349.32" y="176.20" font-size="12.6" text-anchor="middle" fill="#1a1a1a" font-weight="400" >200</text>
<line x1="385.88" y1="161.40" x2="385.88" y2="164.40" stroke="#2b2b2b" stroke-width="1" />
<text x="385.88" y="176.20" font-size="12.6" text-anchor="middle" fill="#1a1a1a" font-weight="400" >300</text>
<line x1="422.44" y1="161.40" x2="422.44" y2="164.40" stroke="#2b2b2b" stroke-width="1" />
<text x="422.44" y="176.20" font-size="12.6" text-anchor="middle" fill="#1a1a1a" font-weight="400" >400</text>
<line x1="459.00" y1="161.40" x2="459.00" y2="164.40" stroke="#2b2b2b" stroke-width="1" />
<text x="459.00" y="176.20" font-size="12.6" text-anchor="middle" fill="#1a1a1a" font-weight="400" >500</text>
<line x1="294.48" y1="161.40" x2="294.48" y2="163.20" stroke="#2b2b2b" stroke-width="1" />
<line x1="331.04" y1="161.40" x2="331.04" y2="163.20" stroke="#2b2b2b" stroke-width="1" />
<line x1="367.60" y1="161.40" x2="367.60" y2="163.20" stroke="#2b2b2b" stroke-width="1" />
<line x1="404.16" y1="161.40" x2="404.16" y2="163.20" stroke="#2b2b2b" stroke-width="1" />
<line x1="440.72" y1="161.40" x2="440.72" y2="163.20" stroke="#2b2b2b" stroke-width="1" />
<line x1="273.30" y1="54.20" x2="276.30" y2="54.20" stroke="#2b2b2b" stroke-width="1" />
<line x1="274.50" y1="38.05" x2="276.30" y2="38.05" stroke="#2b2b2b" stroke-width="1" />
<line x1="274.50" y1="28.60" x2="276.30" y2="28.60" stroke="#2b2b2b" stroke-width="1" />
<line x1="274.50" y1="21.90" x2="276.30" y2="21.90" stroke="#2b2b2b" stroke-width="1" />
<line x1="274.50" y1="16.70" x2="276.30" y2="16.70" stroke="#2b2b2b" stroke-width="1" />
<line x1="273.30" y1="107.85" x2="276.30" y2="107.85" stroke="#2b2b2b" stroke-width="1" />
<line x1="274.50" y1="91.70" x2="276.30" y2="91.70" stroke="#2b2b2b" stroke-width="1" />
<line x1="274.50" y1="82.25" x2="276.30" y2="82.25" stroke="#2b2b2b" stroke-width="1" />
<line x1="274.50" y1="75.55" x2="276.30" y2="75.55" stroke="#2b2b2b" stroke-width="1" />
<line x1="274.50" y1="70.35" x2="276.30" y2="70.35" stroke="#2b2b2b" stroke-width="1" />
<line x1="274.50" y1="66.10" x2="276.30" y2="66.10" stroke="#2b2b2b" stroke-width="1" />
<line x1="274.50" y1="62.51" x2="276.30" y2="62.51" stroke="#2b2b2b" stroke-width="1" />
<line x1="274.50" y1="59.40" x2="276.30" y2="59.40" stroke="#2b2b2b" stroke-width="1" />
<line x1="274.50" y1="56.65" x2="276.30" y2="56.65" stroke="#2b2b2b" stroke-width="1" />
<line x1="273.30" y1="161.50" x2="276.30" y2="161.50" stroke="#2b2b2b" stroke-width="1" />
<line x1="274.50" y1="145.35" x2="276.30" y2="145.35" stroke="#2b2b2b" stroke-width="1" />
<line x1="274.50" y1="135.90" x2="276.30" y2="135.90" stroke="#2b2b2b" stroke-width="1" />
<line x1="274.50" y1="129.20" x2="276.30" y2="129.20" stroke="#2b2b2b" stroke-width="1" />
<line x1="274.50" y1="124.00" x2="276.30" y2="124.00" stroke="#2b2b2b" stroke-width="1" />
<line x1="274.50" y1="119.75" x2="276.30" y2="119.75" stroke="#2b2b2b" stroke-width="1" />
<line x1="274.50" y1="116.16" x2="276.30" y2="116.16" stroke="#2b2b2b" stroke-width="1" />
<line x1="274.50" y1="113.05" x2="276.30" y2="113.05" stroke="#2b2b2b" stroke-width="1" />
<line x1="274.50" y1="110.30" x2="276.30" y2="110.30" stroke="#2b2b2b" stroke-width="1" />
<text x="268.00" y="58.50" font-size="12.6" text-anchor="end" fill="#1a1a1a" font-weight="400" >10</text>
<text x="267.90" y="52.50" font-size="7.0" text-anchor="start" fill="#1a1a1a" font-weight="400" >0</text>
<text x="263.80" y="112.15" font-size="12.6" text-anchor="end" fill="#1a1a1a" font-weight="400" >10</text>
<text x="263.50" y="106.15" font-size="7.0" text-anchor="start" fill="#1a1a1a" font-weight="400" >-1</text>
<text x="263.80" y="165.80" font-size="12.6" text-anchor="end" fill="#1a1a1a" font-weight="400" >10</text>
<text x="263.50" y="159.80" font-size="7.0" text-anchor="start" fill="#1a1a1a" font-weight="400" >-2</text>
<text x="368.60" y="196.30" font-size="12.8" text-anchor="middle" fill="#1a1a1a" font-weight="400" >Time (ns)</text>
<text x="0.00" y="0.00" font-size="12.8" text-anchor="middle" fill="#1a1a1a" font-weight="400" transform="translate(246.6 87.0) rotate(-90)">Normalized PL intensity</text>
<circle cx="280.8" cy="23.20" r="1.0" fill="#ef5555"/>
<text x="290.60" y="26.00" font-size="9.8" text-anchor="start" fill="#1a1a1a" font-weight="400" >PVSK/D18</text>
<circle cx="280.8" cy="35.10" r="1.0" fill="#3c7ee0"/>
<text x="291.40" y="37.90" font-size="9.8" text-anchor="start" fill="#1a1a1a" font-weight="400" >PVSK/Spiro</text>
<circle cx="280.8" cy="47.00" r="1.0" fill="#52b071"/>
<text x="291.40" y="49.80" font-size="9.8" text-anchor="start" fill="#1a1a1a" font-weight="400" >PVSK/D18/Spiro</text>
<rect x="383.90" y="14.50" width="75.10" height="60.90" fill="#fff" stroke="#6e6e6e" stroke-width="1.4" />
<path d="M383.9 19.4h0M384.2 19.0h0M384.4 19.0h0M384.7 19.1h0M384.9 18.9h0M385.2 19.0h0M385.4 19.0h0M385.7 19.5h0M385.9 19.4h0M386.2 19.6h0M386.4 19.9h0M386.7 20.1h0M386.9 20.1h0M387.2 20.2h0M387.4 20.4h0M387.7 20.9h0M387.9 21.0h0M388.2 21.2h0M388.4 20.3h0M388.7 20.9h0M388.9 20.9h0M389.2 21.9h0M389.4 21.8h0M389.7 21.4h0M389.9 22.2h0M390.2 22.0h0M390.4 20.8h0M390.7 21.9h0M390.9 21.7h0M391.2 21.5h0M391.4 22.5h0M391.7 22.2h0M391.9 21.3h0M392.2 21.6h0M392.4 22.0h0M392.7 22.8h0M392.9 22.5h0M393.2 22.8h0M393.4 22.3h0M393.7 23.2h0M393.9 22.5h0M394.2 23.0h0M394.4 22.6h0M394.7 22.6h0M395.0 23.1h0M395.2 22.4h0M395.5 23.0h0M395.7 23.3h0M396.0 22.6h0M396.2 23.2h0M396.5 23.2h0M396.7 22.9h0M397.0 22.5h0M397.2 24.0h0M397.5 23.3h0M397.7 25.0h0M398.0 24.9h0M398.2 22.8h0M398.5 24.1h0M398.7 23.7h0M399.0 24.2h0M399.2 23.3h0M399.5 24.5h0M399.7 25.7h0M400.0 23.6h0M400.2 23.5h0M400.5 24.1h0M400.7 24.2h0M401.0 24.6h0M401.2 24.2h0M401.5 24.4h0M401.7 25.2h0M402.0 24.8h0M402.2 25.1h0M402.5 24.6h0M402.7 24.5h0M403.0 24.6h0M403.2 24.6h0M403.5 24.2h0M403.7 25.0h0M404.0 24.9h0M404.2 24.9h0M404.5 25.5h0M404.7 26.3h0M405.0 24.8h0M405.2 25.5h0M405.5 24.7h0M405.8 25.8h0M406.0 25.3h0M406.3 24.7h0M406.5 24.9h0M406.8 25.9h0M407.0 25.2h0M407.3 25.5h0M407.5 26.8h0M407.8 25.3h0M408.0 26.0h0M408.3 24.2h0M408.5 24.9h0M408.8 26.0h0M409.0 25.9h0M409.3 26.7h0M409.5 25.7h0M409.8 24.9h0M410.0 26.6h0M410.3 25.2h0M410.5 26.0h0M410.8 27.1h0M411.0 25.8h0M411.3 26.3h0M411.5 25.7h0M411.8 27.0h0M412.0 26.9h0M412.3 25.6h0M412.5 26.3h0M412.8 26.2h0M413.0 26.9h0M413.3 27.1h0M413.5 26.7h0M413.8 27.1h0M414.0 26.9h0M414.3 26.9h0M414.5 26.7h0M414.8 26.5h0M415.0 27.1h0M415.3 26.5h0M415.5 27.2h0M415.8 26.6h0M416.0 27.0h0M416.3 27.6h0M416.6 27.6h0M416.8 27.2h0M417.1 27.1h0M417.3 27.3h0M417.6 27.6h0M417.8 26.9h0M418.1 28.6h0M418.3 27.4h0M418.6 27.5h0M418.8 27.8h0M419.1 27.7h0M419.3 27.6h0M419.6 27.4h0M419.8 27.0h0M420.1 27.3h0M420.3 27.7h0M420.6 27.4h0M420.8 29.0h0M421.1 26.7h0M421.3 28.9h0M421.6 28.1h0M421.8 27.7h0M422.1 28.0h0M422.3 27.9h0M422.6 27.8h0M422.8 27.2h0M423.1 27.9h0M423.3 27.5h0M423.6 28.3h0M423.8 27.9h0M424.1 27.9h0M424.3 28.2h0M424.6 28.1h0M424.8 28.5h0M425.1 28.2h0M425.3 27.8h0M425.6 28.6h0M425.8 27.8h0M426.1 27.6h0M426.3 27.9h0M426.6 28.9h0M426.9 28.1h0M427.1 28.2h0M427.4 29.7h0M427.6 28.6h0M427.9 29.0h0M428.1 28.4h0M428.4 29.6h0M428.6 29.6h0M428.9 28.6h0M429.1 28.4h0M429.4 28.0h0M429.6 29.2h0M429.9 28.6h0M430.1 28.3h0M430.4 29.4h0M430.6 29.1h0M430.9 29.5h0M431.1 28.6h0M431.4 28.7h0M431.6 29.4h0M431.9 30.1h0M432.1 29.6h0M432.4 29.3h0M432.6 29.9h0M432.9 30.0h0M433.1 29.0h0M433.4 30.7h0M433.6 30.2h0M433.9 29.7h0M434.1 29.9h0M434.4 29.1h0M434.6 30.4h0M434.9 31.0h0M435.1 30.0h0M435.4 30.1h0M435.6 29.8h0M435.9 30.0h0M436.1 29.5h0M436.4 30.1h0M436.6 30.6h0M436.9 30.0h0M437.1 30.7h0M437.4 29.5h0M437.7 29.9h0M437.9 30.1h0M438.2 30.1h0M438.4 30.9h0M438.7 29.8h0M438.9 30.9h0M439.2 30.0h0M439.4 30.5h0M439.7 29.2h0M439.9 29.5h0M440.2 30.7h0M440.4 31.1h0M440.7 30.9h0M440.9 30.7h0M441.2 31.2h0M441.4 31.0h0M441.7 31.2h0M441.9 30.2h0M442.2 31.8h0M442.4 30.7h0M442.7 30.4h0M442.9 30.7h0M443.2 31.5h0M443.4 31.1h0M443.7 31.1h0M443.9 31.8h0M444.2 31.7h0M444.4 31.5h0M444.7 30.8h0M444.9 31.7h0M445.2 31.1h0M445.4 31.5h0M445.7 31.3h0M445.9 30.5h0M446.2 31.3h0M446.4 31.4h0M446.7 30.7h0M446.9 31.0h0M447.2 32.5h0M447.4 31.6h0M447.7 32.7h0M447.9 32.0h0M448.2 31.6h0M448.5 31.4h0M448.7 32.7h0M449.0 31.4h0M449.2 32.2h0M449.5 31.7h0M449.7 31.5h0M450.0 31.8h0M450.2 31.8h0M450.5 32.9h0M450.7 31.8h0M451.0 31.9h0M451.2 31.1h0M451.5 31.9h0M451.7 31.3h0M452.0 31.9h0M452.2 30.9h0M452.5 31.7h0M452.7 33.0h0M453.0 32.5h0M453.2 31.7h0M453.5 32.3h0M453.7 33.2h0M454.0 32.5h0M454.2 31.9h0M454.5 32.8h0M454.7 31.9h0M455.0 32.6h0M455.2 32.9h0M455.5 32.8h0M455.7 32.4h0M456.0 33.8h0M456.2 33.7h0M456.5 33.3h0M456.7 33.7h0M457.0 33.2h0M457.2 33.2h0M457.5 32.8h0M457.7 32.9h0M458.0 33.4h0M458.2 33.0h0M458.5 32.7h0M458.7 32.9h0M459.0 33.0h0" stroke="#161616" stroke-width="2.2" stroke-linecap="round" fill="none"/>
<line x1="383.90" y1="75.40" x2="383.90" y2="73.90" stroke="#333" stroke-width="0.8" />
<text x="383.90" y="83.40" font-size="7.6" text-anchor="middle" fill="#222" font-weight="700" >0</text>
<line x1="398.92" y1="75.40" x2="398.92" y2="73.90" stroke="#333" stroke-width="0.8" />
<text x="398.92" y="83.40" font-size="7.6" text-anchor="middle" fill="#222" font-weight="700" >1</text>
<line x1="413.94" y1="75.40" x2="413.94" y2="73.90" stroke="#333" stroke-width="0.8" />
<text x="413.94" y="83.40" font-size="7.6" text-anchor="middle" fill="#222" font-weight="700" >2</text>
<line x1="428.96" y1="75.40" x2="428.96" y2="73.90" stroke="#333" stroke-width="0.8" />
<text x="428.96" y="83.40" font-size="7.6" text-anchor="middle" fill="#222" font-weight="700" >3</text>
<line x1="443.98" y1="75.40" x2="443.98" y2="73.90" stroke="#333" stroke-width="0.8" />
<text x="443.98" y="83.40" font-size="7.6" text-anchor="middle" fill="#222" font-weight="700" >4</text>
<line x1="459.00" y1="75.40" x2="459.00" y2="73.90" stroke="#333" stroke-width="0.8" />
<text x="459.00" y="83.40" font-size="7.6" text-anchor="middle" fill="#222" font-weight="700" >5</text>
<line x1="391.41" y1="75.40" x2="391.41" y2="74.40" stroke="#333" stroke-width="0.7" />
<line x1="406.43" y1="75.40" x2="406.43" y2="74.40" stroke="#333" stroke-width="0.7" />
<line x1="421.45" y1="75.40" x2="421.45" y2="74.40" stroke="#333" stroke-width="0.7" />
<line x1="436.47" y1="75.40" x2="436.47" y2="74.40" stroke="#333" stroke-width="0.7" />
<line x1="451.49" y1="75.40" x2="451.49" y2="74.40" stroke="#333" stroke-width="0.7" />
<text x="381.90" y="20.20" font-size="8.0" text-anchor="end" fill="#222" font-weight="700" >10</text>
<text x="381.60" y="17.20" font-size="4.6" text-anchor="start" fill="#222" font-weight="700" >0</text>
<text x="380.20" y="48.40" font-size="8.0" text-anchor="end" fill="#222" font-weight="700" >10</text>
<text x="379.90" y="45.40" font-size="4.6" text-anchor="start" fill="#222" font-weight="700" >-1</text>
<text x="380.20" y="77.00" font-size="8.0" text-anchor="end" fill="#222" font-weight="700" >10</text>
<text x="379.90" y="74.00" font-size="4.6" text-anchor="start" fill="#222" font-weight="700" >-2</text>
<text x="421.30" y="92.00" font-size="7.4" text-anchor="middle" fill="#222" font-weight="700" >Time (μs)</text>
<path d="M391.4 45.3h2.2M392.5 44.2v2.2" stroke="#333" stroke-width="0.8"/>
<text x="397.70" y="46.40" font-size="6.6" text-anchor="start" fill="#222" font-weight="700" >Perovskite</text>
<line x1="499.80" y1="12.50" x2="499.80" y2="166.30" stroke="#000" stroke-width="1.3" />
<path d="M499.8 4.2 L504.2 13.2 L495.4 13.2 Z" fill="#000"/>
<text x="0.00" y="0.00" font-size="14.6" text-anchor="middle" fill="#1a1a1a" font-weight="400" transform="translate(489.4 89.4) rotate(-90)">Energy (eV)</text>
<rect x="516.90" y="12.20" width="44.10" height="59.70" fill="#aba7a6" stroke="none" stroke-width="1" />
<rect x="516.90" y="127.90" width="44.10" height="37.50" fill="#aba7a6" stroke="none" stroke-width="1" />
<rect x="575.20" y="11.80" width="43.90" height="43.10" fill="#f27a93" stroke="none" stroke-width="1" />
<rect x="575.30" y="110.90" width="43.90" height="54.50" fill="#f27a93" stroke="none" stroke-width="1" />
<rect x="633.00" y="11.70" width="43.80" height="21.70" fill="#86aee6" stroke="none" stroke-width="1" />
<rect x="633.00" y="106.00" width="43.90" height="59.40" fill="#86aee6" stroke="none" stroke-width="1" />
<text x="538.90" y="54.30" font-size="12.5" text-anchor="middle" fill="#f4f4f4" font-weight="400" >VB</text>
<text x="538.90" y="69.20" font-size="12.5" text-anchor="middle" fill="#f4f4f4" font-weight="400" >-3.95</text>
<text x="538.90" y="138.40" font-size="12.5" text-anchor="middle" fill="#f4f4f4" font-weight="400" >-5.47</text>
<text x="538.90" y="154.00" font-size="12.5" text-anchor="middle" fill="#f4f4f4" font-weight="400" >CB</text>
<text x="597.00" y="49.40" font-size="12.5" text-anchor="middle" fill="#f4f4f4" font-weight="400" >-3.52</text>
<text x="597.30" y="123.10" font-size="12.5" text-anchor="middle" fill="#f4f4f4" font-weight="400" >-5.04</text>
<text x="654.90" y="27.80" font-size="12.5" text-anchor="middle" fill="#f4f4f4" font-weight="400" >-2.08</text>
<text x="655.00" y="116.50" font-size="12.5" text-anchor="middle" fill="#f4f4f4" font-weight="400" >-5.02</text>
<text x="519.3" y="86.6" font-size="12.5" fill="#1a1a1a">E<tspan font-size="8.3" dy="2.4">F</tspan><tspan dy="-2.4"> -4.09</tspan></text>
<line x1="517.00" y1="90.60" x2="560.80" y2="90.60" stroke="#111" stroke-width="1.3" />
<text x="575.1" y="91.2" font-size="12.5" fill="#1a1a1a">E<tspan font-size="8.3" dy="2.4">F</tspan><tspan dy="-2.4"> -4.11</tspan></text>
<line x1="572.00" y1="95.20" x2="615.00" y2="95.20" stroke="#111" stroke-width="1.3" />
<text x="540.00" y="184.20" font-size="12.8" text-anchor="middle" fill="#1a1a1a" font-weight="400" >PVSK</text>
<text x="598.20" y="184.20" font-size="12.8" text-anchor="middle" fill="#1a1a1a" font-weight="400" >PVSK/D18</text>
<text x="658.40" y="184.20" font-size="12.8" text-anchor="middle" fill="#1a1a1a" font-weight="400" >Spiro</text>
<defs>
<linearGradient id="gg" x1="0" y1="0" x2="0" y2="1"><stop offset="0" stop-color="#505050"/><stop offset="1" stop-color="#d2d2d2"/></linearGradient>
<linearGradient id="rg" x1="0" y1="0" x2="0" y2="1"><stop offset="0" stop-color="#ee3d42"/><stop offset="1" stop-color="#fccdd0"/></linearGradient>
</defs>
<rect x="64.00" y="304.38" width="27.70" height="47.62" fill="url(#gg)" stroke="none" stroke-width="1" />
<rect x="91.70" y="255.38" width="28.00" height="96.62" fill="url(#rg)" stroke="none" stroke-width="1" />
<rect x="156.20" y="323.69" width="28.00" height="28.31" fill="url(#gg)" stroke="none" stroke-width="1" />
<rect x="184.20" y="293.99" width="27.80" height="58.01" fill="url(#rg)" stroke="none" stroke-width="1" />
<line x1="64.00" y1="255.38" x2="91.70" y2="255.38" stroke="#222" stroke-width="0.9" stroke-dasharray="1.6 1.2"/>
<line x1="156.20" y1="293.99" x2="184.20" y2="293.99" stroke="#222" stroke-width="0.9" stroke-dasharray="1.6 1.2"/>
<line x1="76.80" y1="273.50" x2="76.80" y2="259.10" stroke="#3a86e8" stroke-width="0.9" />
<path d="M76.80 256.60 L78.50 260.10 L75.10 260.10 Z" fill="#3a86e8"/>
<line x1="76.80" y1="288.00" x2="76.80" y2="301.10" stroke="#3a86e8" stroke-width="0.9" />
<path d="M76.80 303.60 L78.50 300.10 L75.10 300.10 Z" fill="#3a86e8"/>
<line x1="169.30" y1="301.50" x2="169.30" y2="297.50" stroke="#3a86e8" stroke-width="0.9" />
<path d="M169.30 295.00 L171.00 298.50 L167.60 298.50 Z" fill="#3a86e8"/>
<line x1="169.30" y1="316.50" x2="169.30" y2="320.50" stroke="#3a86e8" stroke-width="0.9" />
<path d="M169.30 323.00 L171.00 319.50 L167.60 319.50 Z" fill="#3a86e8"/>
<text x="67.0" y="282.4" font-size="10" fill="#1a1a1a">Δ<tspan font-style="italic">V</tspan><tspan font-size="7" dy="2.2">OC</tspan></text>
<text x="151.00" y="313.00" font-size="10" text-anchor="start" fill="#1a1a1a" font-weight="400" >ΔQFLS</text>
<rect x="45.60" y="203.40" width="184.90" height="148.60" fill="none" stroke="#2b2b2b" stroke-width="1.1" />
<line x1="42.60" y1="351.90" x2="45.60" y2="351.90" stroke="#2b2b2b" stroke-width="1" />
<text x="40.90" y="355.80" font-size="12.6" text-anchor="end" fill="#1a1a1a" font-weight="400" >1.12</text>
<line x1="43.80" y1="337.05" x2="45.60" y2="337.05" stroke="#2b2b2b" stroke-width="1" />
<line x1="42.60" y1="322.20" x2="45.60" y2="322.20" stroke="#2b2b2b" stroke-width="1" />
<text x="40.90" y="326.10" font-size="12.6" text-anchor="end" fill="#1a1a1a" font-weight="400" >1.14</text>
<line x1="43.80" y1="307.35" x2="45.60" y2="307.35" stroke="#2b2b2b" stroke-width="1" />
<line x1="42.60" y1="292.50" x2="45.60" y2="292.50" stroke="#2b2b2b" stroke-width="1" />
<text x="40.90" y="296.40" font-size="12.6" text-anchor="end" fill="#1a1a1a" font-weight="400" >1.16</text>
<line x1="43.80" y1="277.65" x2="45.60" y2="277.65" stroke="#2b2b2b" stroke-width="1" />
<line x1="42.60" y1="262.80" x2="45.60" y2="262.80" stroke="#2b2b2b" stroke-width="1" />
<text x="40.90" y="266.70" font-size="12.6" text-anchor="end" fill="#1a1a1a" font-weight="400" >1.18</text>
<line x1="43.80" y1="247.95" x2="45.60" y2="247.95" stroke="#2b2b2b" stroke-width="1" />
<line x1="42.60" y1="233.10" x2="45.60" y2="233.10" stroke="#2b2b2b" stroke-width="1" />
<text x="40.90" y="237.00" font-size="12.6" text-anchor="end" fill="#1a1a1a" font-weight="400" >1.20</text>
<line x1="43.80" y1="218.25" x2="45.60" y2="218.25" stroke="#2b2b2b" stroke-width="1" />
<line x1="42.60" y1="203.40" x2="45.60" y2="203.40" stroke="#2b2b2b" stroke-width="1" />
<text x="40.90" y="207.30" font-size="12.6" text-anchor="end" fill="#1a1a1a" font-weight="400" >1.22</text>
<line x1="91.70" y1="352.00" x2="91.70" y2="355.00" stroke="#2b2b2b" stroke-width="1" />
<line x1="184.20" y1="352.00" x2="184.20" y2="355.00" stroke="#2b2b2b" stroke-width="1" />
<line x1="137.90" y1="352.00" x2="137.90" y2="353.80" stroke="#2b2b2b" stroke-width="1" />
<text x="84.5" y="367.0" font-size="12.8" fill="#1a1a1a"><tspan font-style="italic">V</tspan><tspan font-size="8.6" dy="3">OC</tspan></text>
<text x="188.20" y="367.50" font-size="12.8" text-anchor="middle" fill="#1a1a1a" font-weight="400" >QFLS</text>
<text transform="translate(10.3 277.3) rotate(-90)" font-size="12.7" text-anchor="middle" fill="#1a1a1a"><tspan font-style="italic">V</tspan><tspan font-size="8.4" dy="2.6">OC</tspan><tspan dy="-2.6"> (mV) and QFLS (meV)</tspan></text>
<rect x="58.20" y="210.30" width="16.70" height="7.80" fill="url(#gg)" stroke="none" stroke-width="1" />
<rect x="58.20" y="222.00" width="16.70" height="8.60" fill="url(#rg)" stroke="none" stroke-width="1" />
<text x="77.60" y="216.90" font-size="9.8" text-anchor="start" fill="#1a1a1a" font-weight="400" >Control</text>
<text x="78.20" y="228.40" font-size="9.8" text-anchor="start" fill="#1a1a1a" font-weight="400" >D18</text>
<path d="M275.80 209.20 C286.50 209.17 320.97 209.03 340.00 209.00 C359.03 208.97 379.17 208.98 390.00 209.00 C400.83 209.02 400.35 208.57 405.00 209.10 C409.65 209.63 414.47 210.93 417.90 212.20 C421.33 213.47 423.47 214.88 425.60 216.70 C427.73 218.52 429.27 220.38 430.70 223.10 C432.13 225.82 433.05 229.45 434.20 233.00 C435.35 236.55 436.75 240.73 437.60 244.40 C438.45 248.07 438.28 247.57 439.30 255.00 C440.32 262.43 442.37 277.92 443.70 289.00 C445.03 300.08 446.32 311.07 447.30 321.50 C448.28 331.93 449.22 346.58 449.60 351.60" fill="none" stroke="#333" stroke-width="1.0" stroke-linejoin="round" />
<path d="M275.80 209.20 C279.83 209.12 280.97 208.80 300.00 208.70 C319.03 208.60 372.50 208.58 390.00 208.60 C407.50 208.62 399.28 208.52 405.00 208.80 C410.72 209.08 419.58 209.42 424.30 210.30 C429.02 211.18 430.77 212.07 433.30 214.10 C435.83 216.13 437.95 219.35 439.50 222.50 C441.05 225.65 441.78 229.35 442.60 233.00 C443.42 236.65 443.80 240.73 444.40 244.40 C445.00 248.07 445.05 247.57 446.20 255.00 C447.35 262.43 450.05 277.92 451.30 289.00 C452.55 300.08 452.95 311.07 453.70 321.50 C454.45 331.93 455.45 346.58 455.80 351.60" fill="none" stroke="#ef3535" stroke-width="1.2" stroke-linejoin="round" />
<path d="M424.30 210.52 L426.50 214.15 L422.10 214.15 Z" fill="#111"/>
<path d="M428.80 213.22 L431.00 216.85 L426.60 216.85 Z" fill="#111"/>
<path d="M430.70 216.02 L432.90 219.65 L428.50 219.65 Z" fill="#111"/>
<path d="M432.00 218.62 L434.20 222.25 L429.80 222.25 Z" fill="#111"/>
<path d="M433.30 221.12 L435.50 224.75 L431.10 224.75 Z" fill="#111"/>
<path d="M434.80 223.72 L437.00 227.35 L432.60 227.35 Z" fill="#111"/>
<path d="M435.80 226.52 L438.00 230.15 L433.60 230.15 Z" fill="#111"/>
<path d="M438.50 242.42 L440.70 246.05 L436.30 246.05 Z" fill="#111"/>
<path d="M442.60 277.32 L444.80 280.95 L440.40 280.95 Z" fill="#111"/>
<path d="M443.50 294.62 L445.70 298.25 L441.30 298.25 Z" fill="#111"/>
<path d="M446.20 330.62 L448.40 334.25 L444.00 334.25 Z" fill="#111"/>
<path d="M446.70 341.92 L448.90 345.55 L444.50 345.55 Z" fill="#111"/>
<path d="M452.50 349.02 L454.70 352.65 L450.30 352.65 Z" fill="#111"/>
<path d="M432.60 210.22 L434.80 213.85 L430.40 213.85 Z" fill="#f03030"/>
<path d="M435.80 212.82 L438.00 216.45 L433.60 216.45 Z" fill="#f03030"/>
<path d="M437.80 215.42 L440.00 219.05 L435.60 219.05 Z" fill="#f03030"/>
<path d="M439.40 217.32 L441.60 220.95 L437.20 220.95 Z" fill="#f03030"/>
<path d="M440.70 219.92 L442.90 223.55 L438.50 223.55 Z" fill="#f03030"/>
<path d="M442.00 223.02 L444.20 226.65 L439.80 226.65 Z" fill="#f03030"/>
<path d="M442.90 226.92 L445.10 230.55 L440.70 230.55 Z" fill="#f03030"/>
<path d="M443.00 242.42 L445.20 246.05 L440.80 246.05 Z" fill="#f03030"/>
<path d="M446.70 277.32 L448.90 280.95 L444.50 280.95 Z" fill="#f03030"/>
<path d="M448.00 295.02 L450.20 298.65 L445.80 298.65 Z" fill="#f03030"/>
<path d="M450.70 330.62 L452.90 334.25 L448.50 334.25 Z" fill="#f03030"/>
<path d="M451.20 341.92 L453.40 345.55 L449.00 345.55 Z" fill="#f03030"/>
<path d="M455.20 349.22 L457.40 352.85 L453.00 352.85 Z" fill="#f03030"/>
<rect x="410.50" y="208.00" width="36.50" height="25.20" fill="none" stroke="#333" stroke-width="1.0" stroke-dasharray="1.6 1.3"/>
<line x1="388.80" y1="212.60" x2="410.50" y2="208.00" stroke="#333" stroke-width="1.0" stroke-dasharray="1.8 1.4"/>
<line x1="388.80" y1="213.30" x2="410.80" y2="233.20" stroke="#333" stroke-width="1.0" stroke-dasharray="1.8 1.4"/>
<rect x="275.50" y="204.30" width="182.70" height="147.90" fill="none" stroke="#2b2b2b" stroke-width="1.1" />
<line x1="275.50" y1="352.20" x2="275.50" y2="355.20" stroke="#2b2b2b" stroke-width="1" />
<text x="275.50" y="366.40" font-size="12.6" text-anchor="middle" fill="#1a1a1a" font-weight="400" >0.0</text>
<line x1="290.72" y1="352.20" x2="290.72" y2="354.00" stroke="#2b2b2b" stroke-width="1" />
<line x1="305.94" y1="352.20" x2="305.94" y2="355.20" stroke="#2b2b2b" stroke-width="1" />
<text x="305.94" y="366.40" font-size="12.6" text-anchor="middle" fill="#1a1a1a" font-weight="400" >0.2</text>
<line x1="321.16" y1="352.20" x2="321.16" y2="354.00" stroke="#2b2b2b" stroke-width="1" />
<line x1="336.38" y1="352.20" x2="336.38" y2="355.20" stroke="#2b2b2b" stroke-width="1" />
<text x="336.38" y="366.40" font-size="12.6" text-anchor="middle" fill="#1a1a1a" font-weight="400" >0.4</text>
<line x1="351.60" y1="352.20" x2="351.60" y2="354.00" stroke="#2b2b2b" stroke-width="1" />
<line x1="366.82" y1="352.20" x2="366.82" y2="355.20" stroke="#2b2b2b" stroke-width="1" />
<text x="366.82" y="366.40" font-size="12.6" text-anchor="middle" fill="#1a1a1a" font-weight="400" >0.6</text>
<line x1="382.04" y1="352.20" x2="382.04" y2="354.00" stroke="#2b2b2b" stroke-width="1" />
<line x1="397.26" y1="352.20" x2="397.26" y2="355.20" stroke="#2b2b2b" stroke-width="1" />
<text x="397.26" y="366.40" font-size="12.6" text-anchor="middle" fill="#1a1a1a" font-weight="400" >0.8</text>
<line x1="412.48" y1="352.20" x2="412.48" y2="354.00" stroke="#2b2b2b" stroke-width="1" />
<line x1="427.70" y1="352.20" x2="427.70" y2="355.20" stroke="#2b2b2b" stroke-width="1" />
<text x="427.70" y="366.40" font-size="12.6" text-anchor="middle" fill="#1a1a1a" font-weight="400" >1.0</text>
<line x1="442.92" y1="352.20" x2="442.92" y2="354.00" stroke="#2b2b2b" stroke-width="1" />
<line x1="458.14" y1="352.20" x2="458.14" y2="355.20" stroke="#2b2b2b" stroke-width="1" />
<text x="458.14" y="366.40" font-size="12.6" text-anchor="middle" fill="#1a1a1a" font-weight="400" >1.2</text>
<line x1="272.50" y1="352.20" x2="275.50" y2="352.20" stroke="#2b2b2b" stroke-width="1" />
<text x="271.20" y="356.70" font-size="12.6" text-anchor="end" fill="#1a1a1a" font-weight="400" >0</text>
<line x1="273.70" y1="338.50" x2="275.50" y2="338.50" stroke="#2b2b2b" stroke-width="1" />
<line x1="272.50" y1="324.80" x2="275.50" y2="324.80" stroke="#2b2b2b" stroke-width="1" />
<text x="271.20" y="329.30" font-size="12.6" text-anchor="end" fill="#1a1a1a" font-weight="400" >5</text>
<line x1="273.70" y1="311.10" x2="275.50" y2="311.10" stroke="#2b2b2b" stroke-width="1" />
<line x1="272.50" y1="297.40" x2="275.50" y2="297.40" stroke="#2b2b2b" stroke-width="1" />
<text x="271.20" y="301.90" font-size="12.6" text-anchor="end" fill="#1a1a1a" font-weight="400" >10</text>
<line x1="273.70" y1="283.70" x2="275.50" y2="283.70" stroke="#2b2b2b" stroke-width="1" />
<line x1="272.50" y1="270.00" x2="275.50" y2="270.00" stroke="#2b2b2b" stroke-width="1" />
<text x="271.20" y="274.50" font-size="12.6" text-anchor="end" fill="#1a1a1a" font-weight="400" >15</text>
<line x1="273.70" y1="256.30" x2="275.50" y2="256.30" stroke="#2b2b2b" stroke-width="1" />
<line x1="272.50" y1="242.60" x2="275.50" y2="242.60" stroke="#2b2b2b" stroke-width="1" />
<text x="271.20" y="247.10" font-size="12.6" text-anchor="end" fill="#1a1a1a" font-weight="400" >20</text>
<line x1="273.70" y1="228.90" x2="275.50" y2="228.90" stroke="#2b2b2b" stroke-width="1" />
<line x1="272.50" y1="215.20" x2="275.50" y2="215.20" stroke="#2b2b2b" stroke-width="1" />
<text x="271.20" y="219.70" font-size="12.6" text-anchor="end" fill="#1a1a1a" font-weight="400" >25</text>
<text x="367.40" y="385.60" font-size="12.8" text-anchor="middle" fill="#1a1a1a" font-weight="400" >Voltage (V)</text>
<text transform="translate(253.4 277.2) rotate(-90)" font-size="12.6" text-anchor="middle" fill="#1a1a1a">Current density (mA cm<tspan font-size="8.5" dy="-5">-2</tspan><tspan dy="5">)</tspan></text>
<rect x="296.40" y="212.50" width="92.20" height="74.40" fill="#fff" stroke="none" stroke-width="1" />
<clipPath id="ic"><rect x="296.4" y="212.5" width="92.20000000000005" height="74.39999999999998"/></clipPath>
<path d="M296.40 225.40 C299.40 226.07 308.97 227.52 314.40 229.40 C319.83 231.28 324.93 234.27 329.00 236.70 C333.07 239.13 335.95 241.15 338.80 244.00 C341.65 246.85 343.67 249.73 346.10 253.80 C348.53 257.87 351.15 262.70 353.40 268.40 C355.65 274.10 358.57 284.73 359.60 288.00" fill="none" stroke="#3a3a3a" stroke-width="1.0" stroke-linejoin="round" clip-path="url(#ic)"/>
<path d="M296.40 223.60 C300.33 223.93 313.57 224.77 320.00 225.60 C326.43 226.43 330.83 227.58 335.00 228.60 C339.17 229.62 341.67 230.35 345.00 231.70 C348.33 233.05 352.22 234.75 355.00 236.70 C357.78 238.65 359.75 240.88 361.70 243.40 C363.65 245.92 365.02 248.45 366.70 251.80 C368.38 255.15 370.27 259.60 371.80 263.50 C373.33 267.40 374.73 270.95 375.90 275.20 C377.07 279.45 378.32 286.70 378.80 289.00" fill="none" stroke="#ef3535" stroke-width="1.15" stroke-linejoin="round" clip-path="url(#ic)"/>
<path d="M338.50 229.82 L340.70 233.45 L336.30 233.45 Z" fill="#444"/>
<path d="M349.50 237.72 L351.70 241.35 L347.30 241.35 Z" fill="#444"/>
<path d="M353.30 244.32 L355.50 247.95 L351.10 247.95 Z" fill="#444"/>
<path d="M357.20 250.12 L359.40 253.75 L355.00 253.75 Z" fill="#444"/>
<path d="M359.10 255.12 L361.30 258.75 L356.90 258.75 Z" fill="#444"/>
<path d="M361.60 260.32 L363.80 263.95 L359.40 263.95 Z" fill="#444"/>
<path d="M364.30 270.92 L366.50 274.55 L362.10 274.55 Z" fill="#444"/>
<path d="M365.90 279.02 L368.10 282.65 L363.70 282.65 Z" fill="#444"/>
<path d="M358.60 230.82 L360.80 234.45 L356.40 234.45 Z" fill="#f03030"/>
<path d="M365.90 239.12 L368.10 242.75 L363.70 242.75 Z" fill="#f03030"/>
<path d="M369.40 245.42 L371.60 249.05 L367.20 249.05 Z" fill="#f03030"/>
<path d="M372.10 251.22 L374.30 254.85 L369.90 254.85 Z" fill="#f03030"/>
<path d="M373.40 256.42 L375.60 260.05 L371.20 260.05 Z" fill="#f03030"/>
<path d="M374.80 261.02 L377.00 264.65 L372.60 264.65 Z" fill="#f03030"/>
<path d="M376.80 270.92 L379.00 274.55 L374.60 274.55 Z" fill="#f03030"/>
<path d="M378.50 280.02 L380.70 283.65 L376.30 283.65 Z" fill="#f03030"/>
<line x1="358.20" y1="241.10" x2="363.00" y2="241.10" stroke="#3a86e8" stroke-width="1.0" />
<path d="M365.50 241.10 L362.00 239.50 L362.00 242.70 Z" fill="#3a86e8"/>
<line x1="345.60" y1="253.60" x2="354.50" y2="253.60" stroke="#3a86e8" stroke-width="1.0" />
<path d="M357.00 253.60 L353.50 252.00 L353.50 255.20 Z" fill="#3a86e8"/>
<rect x="296.40" y="212.50" width="92.20" height="74.40" fill="none" stroke="#2b2b2b" stroke-width="1.0" />
<line x1="388.60" y1="212.50" x2="388.60" y2="286.90" stroke="#666" stroke-width="1.4" />
<line x1="313.18" y1="286.90" x2="313.18" y2="288.90" stroke="#2b2b2b" stroke-width="1" />
<text x="313.18" y="296.80" font-size="8.7" text-anchor="middle" fill="#1a1a1a" font-weight="400" >0.9</text>
<line x1="347.12" y1="286.90" x2="347.12" y2="288.90" stroke="#2b2b2b" stroke-width="1" />
<text x="347.12" y="296.80" font-size="8.7" text-anchor="middle" fill="#1a1a1a" font-weight="400" >1.0</text>
<line x1="381.08" y1="286.90" x2="381.08" y2="288.90" stroke="#2b2b2b" stroke-width="1" />
<text x="381.08" y="296.80" font-size="8.7" text-anchor="middle" fill="#1a1a1a" font-weight="400" >1.1</text>
<line x1="330.15" y1="286.90" x2="330.15" y2="288.10" stroke="#2b2b2b" stroke-width="1" />
<line x1="364.10" y1="286.90" x2="364.10" y2="288.10" stroke="#2b2b2b" stroke-width="1" />
<text x="336.8" y="223.8" font-size="8.4" fill="#1a1a1a"><tspan font-style="italic">R</tspan><tspan font-size="6" dy="2">s</tspan><tspan dy="-2">=ΔV/</tspan><tspan font-style="italic">J</tspan><tspan font-size="6" dy="2">MPP</tspan></text>
<path d="M287.30 304.53 L289.60 308.33 L285.00 308.33 Z" fill="#111"/>
<path d="M287.30 315.93 L289.60 319.73 L285.00 319.73 Z" fill="#f03030"/>
<line x1="278.90" y1="330.00" x2="295.70" y2="330.00" stroke="#555" stroke-width="1.3" />
<line x1="278.90" y1="341.80" x2="295.70" y2="341.80" stroke="#f04545" stroke-width="1.3" />
<text x="298.6" y="309.00" font-size="9.8" fill="#1a1a1a">Pseudo <tspan font-style="italic">J</tspan>-<tspan font-style="italic">V</tspan> (Control)</text>
<text x="298.6" y="320.80" font-size="9.8" fill="#1a1a1a">Pseudo <tspan font-style="italic">J</tspan>-<tspan font-style="italic">V</tspan> (D18)</text>
<text x="298.6" y="332.70" font-size="9.8" fill="#1a1a1a">One sun <tspan font-style="italic">J</tspan>-<tspan font-style="italic">V</tspan> (Control)</text>
<text x="298.6" y="344.60" font-size="9.8" fill="#1a1a1a">One sun <tspan font-style="italic">J</tspan>-<tspan font-style="italic">V</tspan> (D18)</text>
<line x1="530.50" y1="219.50" x2="655.00" y2="219.50" stroke="#333" stroke-width="1.0" stroke-dasharray="1.3 2.2"/>
<line x1="530.50" y1="258.77" x2="655.00" y2="251.79" stroke="#ef3a3a" stroke-width="1.2" stroke-dasharray="1.5 3.0"/>
<line x1="526.00" y1="304.57" x2="658.00" y2="279.71" stroke="#ef3a3a" stroke-width="1.1" />
<path d="M526.00 216.60 L528.90 219.50 L526.00 222.41 L523.10 219.50 Z" fill="#fff" stroke="#333" stroke-width="1"/>
<path d="M658.00 216.60 L660.90 219.50 L658.00 222.41 L655.10 219.50 Z" fill="#fff" stroke="#333" stroke-width="1"/>
<path d="M526.00 255.87 L528.90 258.77 L526.00 261.67 L523.10 258.77 Z" fill="#fff" stroke="#ef3a3a" stroke-width="1"/>
<path d="M658.00 248.89 L660.90 251.79 L658.00 254.69 L655.10 251.79 Z" fill="#fff" stroke="#ef3a3a" stroke-width="1"/>
<path d="M526.00 301.67 L528.90 304.57 L526.00 307.47 L523.10 304.57 Z" fill="#ef3a3a" stroke="#ef3a3a" stroke-width="1"/>
<path d="M658.00 276.81 L660.90 279.71 L658.00 282.61 L655.10 279.71 Z" fill="#ef3a3a" stroke="#ef3a3a" stroke-width="1"/>
<text x="561.60" y="236.30" font-size="10" text-anchor="start" fill="#1a1a1a" font-weight="400" >Non-radiative</text>
<text x="561.60" y="248.50" font-size="10" text-anchor="start" fill="#1a1a1a" font-weight="400" >recombination loss</text>
<text x="562.80" y="277.80" font-size="10" text-anchor="start" fill="#1a1a1a" font-weight="400" >Transport loss</text>
<rect x="499.40" y="203.80" width="184.80" height="149.20" fill="none" stroke="#2b2b2b" stroke-width="1.1" />
<line x1="496.40" y1="203.80" x2="499.40" y2="203.80" stroke="#2b2b2b" stroke-width="1" />
<text x="493.90" y="208.00" font-size="12.6" text-anchor="end" fill="#1a1a1a" font-weight="400" >92</text>
<line x1="496.40" y1="238.70" x2="499.40" y2="238.70" stroke="#2b2b2b" stroke-width="1" />
<text x="493.90" y="242.90" font-size="12.6" text-anchor="end" fill="#1a1a1a" font-weight="400" >88</text>
<line x1="496.40" y1="273.60" x2="499.40" y2="273.60" stroke="#2b2b2b" stroke-width="1" />
<text x="493.90" y="277.80" font-size="12.6" text-anchor="end" fill="#1a1a1a" font-weight="400" >84</text>
<line x1="496.40" y1="308.50" x2="499.40" y2="308.50" stroke="#2b2b2b" stroke-width="1" />
<text x="493.90" y="312.70" font-size="12.6" text-anchor="end" fill="#1a1a1a" font-weight="400" >80</text>
<line x1="496.40" y1="343.40" x2="499.40" y2="343.40" stroke="#2b2b2b" stroke-width="1" />
<text x="493.90" y="347.60" font-size="12.6" text-anchor="end" fill="#1a1a1a" font-weight="400" >76</text>
<line x1="497.60" y1="221.25" x2="499.40" y2="221.25" stroke="#2b2b2b" stroke-width="1" />
<line x1="497.60" y1="256.15" x2="499.40" y2="256.15" stroke="#2b2b2b" stroke-width="1" />
<line x1="497.60" y1="291.05" x2="499.40" y2="291.05" stroke="#2b2b2b" stroke-width="1" />
<line x1="497.60" y1="325.95" x2="499.40" y2="325.95" stroke="#2b2b2b" stroke-width="1" />
<line x1="526.00" y1="353.00" x2="526.00" y2="356.00" stroke="#2b2b2b" stroke-width="1" />
<line x1="658.00" y1="353.00" x2="658.00" y2="356.00" stroke="#2b2b2b" stroke-width="1" />
<text x="530.90" y="369.30" font-size="12.8" text-anchor="middle" fill="#1a1a1a" font-weight="400" >Control</text>
<text x="661.40" y="369.30" font-size="12.8" text-anchor="middle" fill="#1a1a1a" font-weight="400" >D18</text>
<text x="0.00" y="0.00" font-size="12.8" text-anchor="middle" fill="#1a1a1a" font-weight="400" transform="translate(476.0 278.2) rotate(-90)">FF (%)</text>
<line x1="595.70" y1="319.60" x2="598.00" y2="319.60" stroke="#333" stroke-width="1.1" />
<line x1="610.70" y1="319.60" x2="613.00" y2="319.60" stroke="#333" stroke-width="1.1" />
<path d="M604.40 316.70 L607.30 319.60 L604.40 322.50 L601.50 319.60 Z" fill="#fff" stroke="#333" stroke-width="1"/>
<text x="615.40" y="323.00" font-size="9.8" text-anchor="start" fill="#1a1a1a" font-weight="400" >S-Q limit FF</text>
<line x1="595.70" y1="331.35" x2="598.00" y2="331.35" stroke="#ef3a3a" stroke-width="1.1" />
<line x1="610.70" y1="331.35" x2="613.00" y2="331.35" stroke="#ef3a3a" stroke-width="1.1" />
<path d="M604.40 328.45 L607.30 331.35 L604.40 334.25 L601.50 331.35 Z" fill="#fff" stroke="#ef3a3a" stroke-width="1"/>
<text x="615.40" y="334.75" font-size="9.8" text-anchor="start" fill="#1a1a1a" font-weight="400" >FF maximum</text>
<line x1="595.70" y1="343.10" x2="612.90" y2="343.10" stroke="#ef3a3a" stroke-width="1.2" />
<path d="M604.40 340.20 L607.30 343.10 L604.40 346.00 L601.50 343.10 Z" fill="#ef3a3a" stroke="#ef3a3a" stroke-width="1"/>
<text x="615.40" y="346.50" font-size="9.8" text-anchor="start" fill="#1a1a1a" font-weight="400" >FF measured</text>
</svg></body></html>
